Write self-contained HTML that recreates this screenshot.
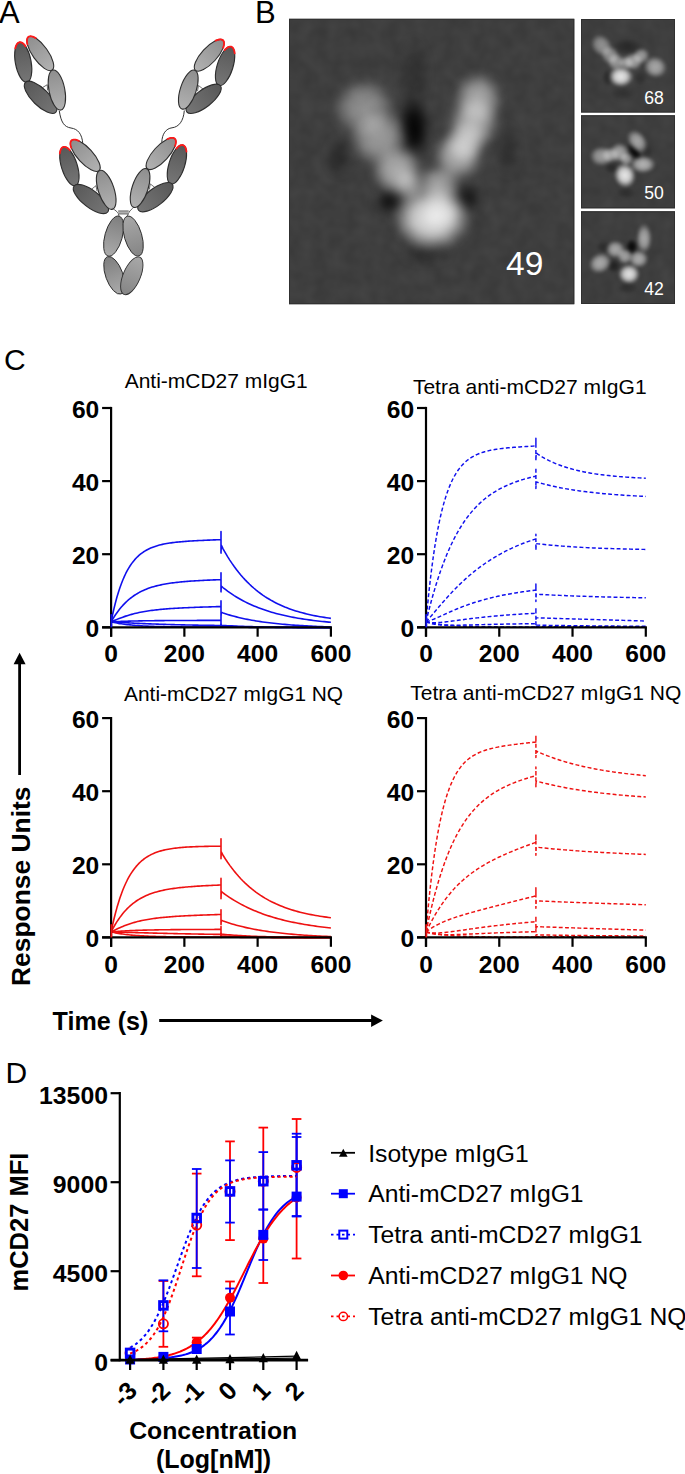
<!DOCTYPE html><html><head><meta charset="utf-8"><style>html,body{margin:0;padding:0;background:#fff;overflow:hidden}svg{display:block}text{font-family:"Liberation Sans",sans-serif}</style></head><body><svg width="685" height="1474" viewBox="0 0 685 1474"><rect width="685" height="1474" fill="#fff"/><text x="-1" y="22.6" font-size="31">A</text><text x="255" y="22.6" font-size="31">B</text><defs><linearGradient id="gl" x1="0" y1="0" x2="0" y2="1"><stop offset="0" stop-color="#8e8e8e"/><stop offset="1" stop-color="#b2b2b2"/></linearGradient><linearGradient id="gd" x1="0" y1="0" x2="0" y2="1"><stop offset="0" stop-color="#585858"/><stop offset="1" stop-color="#767676"/></linearGradient><linearGradient id="gf1" x1="0" y1="0" x2="0" y2="1"><stop offset="0" stop-color="#7e7e7e"/><stop offset="1" stop-color="#ababab"/></linearGradient><linearGradient id="gf2" x1="0" y1="0" x2="0" y2="1"><stop offset="0" stop-color="#a8a8a8"/><stop offset="1" stop-color="#858585"/></linearGradient></defs><path d="M59.3,111 C61,122 64,127 71,128 C78,129 82,134 82.8,143.6" fill="none" stroke="#333" stroke-width="1"/><path d="M184.3,110.5 C183.5,121 179,127 172,127.8 C166,128.5 162,134 161.8,142.3" fill="none" stroke="#333" stroke-width="1"/><g transform="translate(40.3,75.8) rotate(7)"><g transform="translate(-18.6,-11.4) rotate(-17.5)"><ellipse rx="7.9" ry="20.3" fill="url(#gd)" stroke="#2e2e2e" stroke-width="1.1"/><path d="M-5.29,-15.09 L-4.73,-16.27 L-4.13,-17.31 L-3.49,-18.21 L-2.83,-18.95 L-2.14,-19.54 L-1.44,-19.96 L-0.72,-20.21 L0,-20.3 L0.72,-20.21 L1.44,-19.96 L2.14,-19.54 L2.83,-18.95 L3.49,-18.21 L4.13,-17.31 L4.73,-16.27 L5.29,-15.09" fill="none" stroke="#ff1a1a" stroke-width="1.8" stroke-linecap="round"/></g><g transform="translate(-2.7,-22.2) rotate(-42.5)"><ellipse rx="7.7" ry="20.4" fill="url(#gl)" stroke="#2e2e2e" stroke-width="1.1"/><path d="M-5.15,-15.16 L-4.61,-16.35 L-4.02,-17.39 L-3.41,-18.3 L-2.76,-19.05 L-2.09,-19.63 L-1.4,-20.06 L-0.7,-20.31 L0,-20.4 L0.7,-20.31 L1.4,-20.06 L2.09,-19.63 L2.76,-19.05 L3.41,-18.3 L4.02,-17.39 L4.61,-16.35 L5.15,-15.16" fill="none" stroke="#ff1a1a" stroke-width="1.8" stroke-linecap="round"/></g><g transform="translate(2.9,21.3) rotate(-52.3)"><ellipse rx="8.4" ry="21.3" fill="url(#gd)" stroke="#2e2e2e" stroke-width="1.1"/></g><g transform="translate(18.2,12.1) rotate(-18.2)"><ellipse rx="7.9" ry="20.4" fill="url(#gl)" stroke="#2e2e2e" stroke-width="1.1"/></g><path d="M3.4,11.6 L8,8 L9,13.6" fill="none" stroke="#333" stroke-width="0.7"/></g><g transform="translate(88,177.7) rotate(0)"><g transform="translate(-18.6,-11.4) rotate(-17.5)"><ellipse rx="7.9" ry="20.3" fill="url(#gd)" stroke="#2e2e2e" stroke-width="1.1"/><path d="M-5.29,-15.09 L-4.73,-16.27 L-4.13,-17.31 L-3.49,-18.21 L-2.83,-18.95 L-2.14,-19.54 L-1.44,-19.96 L-0.72,-20.21 L0,-20.3 L0.72,-20.21 L1.44,-19.96 L2.14,-19.54 L2.83,-18.95 L3.49,-18.21 L4.13,-17.31 L4.73,-16.27 L5.29,-15.09" fill="none" stroke="#ff1a1a" stroke-width="1.8" stroke-linecap="round"/></g><g transform="translate(-2.7,-22.2) rotate(-42.5)"><ellipse rx="7.7" ry="20.4" fill="url(#gl)" stroke="#2e2e2e" stroke-width="1.1"/><path d="M-5.15,-15.16 L-4.61,-16.35 L-4.02,-17.39 L-3.41,-18.3 L-2.76,-19.05 L-2.09,-19.63 L-1.4,-20.06 L-0.7,-20.31 L0,-20.4 L0.7,-20.31 L1.4,-20.06 L2.09,-19.63 L2.76,-19.05 L3.41,-18.3 L4.02,-17.39 L4.61,-16.35 L5.15,-15.16" fill="none" stroke="#ff1a1a" stroke-width="1.8" stroke-linecap="round"/></g><g transform="translate(2.9,21.3) rotate(-52.3)"><ellipse rx="8.4" ry="21.3" fill="url(#gd)" stroke="#2e2e2e" stroke-width="1.1"/></g><g transform="translate(18.2,12.1) rotate(-18.2)"><ellipse rx="7.9" ry="20.4" fill="url(#gl)" stroke="#2e2e2e" stroke-width="1.1"/></g><path d="M3.4,11.6 L8,8 L9,13.6" fill="none" stroke="#333" stroke-width="0.7"/></g><g transform="translate(206.5,77.5) rotate(0) scale(-1,1)"><g transform="translate(-18.6,-11.4) rotate(-17.5)"><ellipse rx="7.9" ry="20.3" fill="url(#gd)" stroke="#2e2e2e" stroke-width="1.1"/><path d="M-5.29,-15.09 L-4.73,-16.27 L-4.13,-17.31 L-3.49,-18.21 L-2.83,-18.95 L-2.14,-19.54 L-1.44,-19.96 L-0.72,-20.21 L0,-20.3 L0.72,-20.21 L1.44,-19.96 L2.14,-19.54 L2.83,-18.95 L3.49,-18.21 L4.13,-17.31 L4.73,-16.27 L5.29,-15.09" fill="none" stroke="#ff1a1a" stroke-width="1.8" stroke-linecap="round"/></g><g transform="translate(-2.7,-22.2) rotate(-42.5)"><ellipse rx="7.7" ry="20.4" fill="url(#gl)" stroke="#2e2e2e" stroke-width="1.1"/><path d="M-5.15,-15.16 L-4.61,-16.35 L-4.02,-17.39 L-3.41,-18.3 L-2.76,-19.05 L-2.09,-19.63 L-1.4,-20.06 L-0.7,-20.31 L0,-20.4 L0.7,-20.31 L1.4,-20.06 L2.09,-19.63 L2.76,-19.05 L3.41,-18.3 L4.02,-17.39 L4.61,-16.35 L5.15,-15.16" fill="none" stroke="#ff1a1a" stroke-width="1.8" stroke-linecap="round"/></g><g transform="translate(2.9,21.3) rotate(-52.3)"><ellipse rx="8.4" ry="21.3" fill="url(#gd)" stroke="#2e2e2e" stroke-width="1.1"/></g><g transform="translate(18.2,12.1) rotate(-18.2)"><ellipse rx="7.9" ry="20.4" fill="url(#gl)" stroke="#2e2e2e" stroke-width="1.1"/></g><path d="M3.4,11.6 L8,8 L9,13.6" fill="none" stroke="#333" stroke-width="0.7"/></g><g transform="translate(158.3,175.9) rotate(0) scale(-1,1)"><g transform="translate(-18.6,-11.4) rotate(-17.5)"><ellipse rx="7.9" ry="20.3" fill="url(#gd)" stroke="#2e2e2e" stroke-width="1.1"/><path d="M-5.29,-15.09 L-4.73,-16.27 L-4.13,-17.31 L-3.49,-18.21 L-2.83,-18.95 L-2.14,-19.54 L-1.44,-19.96 L-0.72,-20.21 L0,-20.3 L0.72,-20.21 L1.44,-19.96 L2.14,-19.54 L2.83,-18.95 L3.49,-18.21 L4.13,-17.31 L4.73,-16.27 L5.29,-15.09" fill="none" stroke="#ff1a1a" stroke-width="1.8" stroke-linecap="round"/></g><g transform="translate(-2.7,-22.2) rotate(-42.5)"><ellipse rx="7.7" ry="20.4" fill="url(#gl)" stroke="#2e2e2e" stroke-width="1.1"/><path d="M-5.15,-15.16 L-4.61,-16.35 L-4.02,-17.39 L-3.41,-18.3 L-2.76,-19.05 L-2.09,-19.63 L-1.4,-20.06 L-0.7,-20.31 L0,-20.4 L0.7,-20.31 L1.4,-20.06 L2.09,-19.63 L2.76,-19.05 L3.41,-18.3 L4.02,-17.39 L4.61,-16.35 L5.15,-15.16" fill="none" stroke="#ff1a1a" stroke-width="1.8" stroke-linecap="round"/></g><g transform="translate(2.9,21.3) rotate(-52.3)"><ellipse rx="8.4" ry="21.3" fill="url(#gd)" stroke="#2e2e2e" stroke-width="1.1"/></g><g transform="translate(18.2,12.1) rotate(-18.2)"><ellipse rx="7.9" ry="20.4" fill="url(#gl)" stroke="#2e2e2e" stroke-width="1.1"/></g><path d="M3.4,11.6 L8,8 L9,13.6" fill="none" stroke="#333" stroke-width="0.7"/></g><path d="M112.5,208.3 C115,210 117.5,212 118.2,213.1 L119.1,216.2" fill="none" stroke="#333" stroke-width="0.8"/><path d="M132.7,208.3 C130.5,210 129,212 128.7,213.1 L127,216.2" fill="none" stroke="#333" stroke-width="0.8"/><rect x="118.2" y="210.9" width="10.5" height="3.1" fill="#b0b0b0"/><line x1="118.2" y1="210.9" x2="128.7" y2="210.9" stroke="#555" stroke-width="0.8"/><line x1="118.2" y1="214" x2="128.7" y2="214" stroke="#555" stroke-width="0.8"/><ellipse transform="translate(113.6,236.1) rotate(15.4)" rx="8.7" ry="20.7" fill="url(#gf1)" stroke="#2e2e2e" stroke-width="0.9"/><ellipse transform="translate(133.1,236.1) rotate(-16.5)" rx="8.7" ry="20.7" fill="url(#gf2)" stroke="#2e2e2e" stroke-width="0.9"/><ellipse transform="translate(114.3,275.3) rotate(-20)" rx="8.6" ry="19.8" fill="url(#gf1)" stroke="#2e2e2e" stroke-width="0.9"/><ellipse transform="translate(131.8,275.8) rotate(23)" rx="8.6" ry="20.2" fill="url(#gf2)" stroke="#2e2e2e" stroke-width="0.9"/><defs><filter id="bl8" color-interpolation-filters="sRGB" x="-50%" y="-50%" width="200%" height="200%"><feGaussianBlur stdDeviation="8"/></filter><filter id="bl6" color-interpolation-filters="sRGB" x="-50%" y="-50%" width="200%" height="200%"><feGaussianBlur stdDeviation="6"/></filter><filter id="bl4" color-interpolation-filters="sRGB" x="-50%" y="-50%" width="200%" height="200%"><feGaussianBlur stdDeviation="4"/></filter><filter id="bl3" color-interpolation-filters="sRGB" x="-50%" y="-50%" width="200%" height="200%"><feGaussianBlur stdDeviation="3"/></filter><filter id="bl2" color-interpolation-filters="sRGB" x="-50%" y="-50%" width="200%" height="200%"><feGaussianBlur stdDeviation="2.2"/></filter><filter id="bl15" color-interpolation-filters="sRGB" x="-50%" y="-50%" width="200%" height="200%"><feGaussianBlur stdDeviation="1.6"/></filter><filter id="noise" color-interpolation-filters="sRGB" x="0" y="0" width="100%" height="100%"><feTurbulence type="fractalNoise" baseFrequency="0.07" numOctaves="2" seed="3"/><feColorMatrix type="matrix" values="0.4 0 0 0 0.06  0.4 0 0 0 0.06  0.4 0 0 0 0.06  0 0 0 0 1"/><feGaussianBlur stdDeviation="0.8"/></filter><clipPath id="cb0"><rect x="289" y="19" width="285" height="285"/></clipPath><clipPath id="cb1"><rect x="581" y="19" width="94" height="93.5"/></clipPath><clipPath id="cb2"><rect x="581" y="115.3" width="94" height="93"/></clipPath><clipPath id="cb3"><rect x="581" y="211.3" width="94" height="92.7"/></clipPath></defs><radialGradient id="rgw"><stop offset="0" stop-color="#fff" stop-opacity="1"/><stop offset="0.5" stop-color="#fff" stop-opacity="0.8"/><stop offset="1" stop-color="#fff" stop-opacity="0"/></radialGradient><radialGradient id="rgk"><stop offset="0" stop-color="#000" stop-opacity="1"/><stop offset="0.5" stop-color="#000" stop-opacity="0.75"/><stop offset="1" stop-color="#000" stop-opacity="0"/></radialGradient><rect x="289" y="18.8" width="285.3" height="285.4" fill="#3e3e3e"/><g clip-path="url(#cb0)"><rect x="289" y="19" width="285" height="285" filter="url(#noise)" opacity="0.14"/><g filter="url(#bl4)"><ellipse rx="16" ry="32" fill="url(#rgk)" opacity="1.000" transform="translate(414,128) rotate(0)"/><ellipse rx="16" ry="40" fill="url(#rgk)" opacity="0.219" transform="translate(414,75) rotate(0)"/><ellipse rx="14" ry="13" fill="url(#rgk)" opacity="0.766" transform="translate(389,202) rotate(0)"/><ellipse rx="13" ry="14" fill="url(#rgk)" opacity="0.688" transform="translate(468,198) rotate(0)"/><ellipse rx="12" ry="20" fill="url(#rgk)" opacity="0.375" transform="translate(339,156) rotate(0)"/><ellipse rx="26" ry="10" fill="url(#rgk)" opacity="0.297" transform="translate(426,254) rotate(0)"/><ellipse rx="10" ry="28" fill="url(#rgk)" opacity="0.297" transform="translate(508,150) rotate(0)"/><ellipse rx="32" ry="30" fill="url(#rgw)" opacity="0.440" transform="translate(364,108) rotate(-25)"/><ellipse rx="30" ry="28" fill="url(#rgw)" opacity="0.503" transform="translate(379,138) rotate(-30)"/><ellipse rx="26" ry="24" fill="url(#rgw)" opacity="0.607" transform="translate(397,170) rotate(-30)"/><ellipse rx="16" ry="16" fill="url(#rgw)" opacity="0.503" transform="translate(409,185) rotate(-30)"/><ellipse rx="25" ry="27" fill="url(#rgw)" opacity="0.565" transform="translate(478,99) rotate(10)"/><ellipse rx="26" ry="26" fill="url(#rgw)" opacity="0.565" transform="translate(474,123) rotate(15)"/><ellipse rx="22" ry="22" fill="url(#rgw)" opacity="0.545" transform="translate(466,141) rotate(20)"/><ellipse rx="25" ry="25" fill="url(#rgw)" opacity="0.607" transform="translate(458,156) rotate(25)"/><ellipse rx="22" ry="20" fill="url(#rgw)" opacity="0.545" transform="translate(439,185) rotate(25)"/><ellipse rx="39" ry="33" fill="url(#rgw)" opacity="0.880" transform="translate(432,218) rotate(0)"/><ellipse rx="20" ry="18" fill="url(#rgw)" opacity="0.450" transform="translate(442,212) rotate(0)"/></g></g><rect x="289.5" y="19.3" width="284.3" height="284.4" fill="none" stroke="#303030" stroke-width="1"/><text x="506" y="275" font-size="33.5" fill="#ffffff" font-family="Liberation Sans, sans-serif">49</text><rect x="581" y="19" width="94" height="93.5" fill="#3e3e3e"/><g clip-path="url(#cb1)"><rect x="581" y="19" width="94" height="93.5" filter="url(#noise)" opacity="0.14"/><g filter="url(#bl15)"><ellipse rx="16" ry="9" fill="url(#rgk)" opacity="0.337" transform="translate(628,47) rotate(0)"/><ellipse rx="6" ry="9" fill="url(#rgk)" opacity="0.366" transform="translate(608,78) rotate(0)"/><ellipse rx="7" ry="8" fill="url(#rgk)" opacity="0.272" transform="translate(640,78) rotate(0)"/><ellipse rx="12" ry="6" fill="url(#rgk)" opacity="0.178" transform="translate(622,94) rotate(0)"/><ellipse rx="10" ry="12" fill="url(#rgw)" opacity="0.450" transform="translate(601.6,45.5) rotate(-40)"/><ellipse rx="9" ry="10" fill="url(#rgw)" opacity="0.450" transform="translate(610,55) rotate(-40)"/><ellipse rx="9" ry="9" fill="url(#rgw)" opacity="0.476" transform="translate(616,62) rotate(-40)"/><ellipse rx="8" ry="7" fill="url(#rgw)" opacity="0.450" transform="translate(626,63) rotate(0)"/><ellipse rx="10" ry="9" fill="url(#rgw)" opacity="0.529" transform="translate(633.1,61.5) rotate(0)"/><ellipse rx="9" ry="8" fill="url(#rgw)" opacity="0.492" transform="translate(641,56) rotate(-20)"/><ellipse rx="12" ry="11" fill="url(#rgw)" opacity="0.565" transform="translate(655.1,67) rotate(20)"/><ellipse rx="12.5" ry="10.5" fill="url(#rgw)" opacity="0.895" transform="translate(620.8,76.6) rotate(0)"/></g></g><rect x="581.5" y="19.5" width="93" height="92.5" fill="none" stroke="#303030" stroke-width="1"/><text x="644.2" y="103.6" font-size="17.6" fill="#ffffff" font-family="Liberation Sans, sans-serif">68</text><rect x="581" y="115.3" width="94" height="93" fill="#3e3e3e"/><g clip-path="url(#cb2)"><rect x="581" y="115.3" width="94" height="93" filter="url(#noise)" opacity="0.14"/><g filter="url(#bl15)"><ellipse rx="5" ry="11" fill="url(#rgk)" opacity="0.922" transform="translate(634.5,152) rotate(-35)"/><ellipse rx="8" ry="6" fill="url(#rgk)" opacity="0.319" transform="translate(612,168) rotate(0)"/><ellipse rx="10" ry="6" fill="url(#rgk)" opacity="0.272" transform="translate(626,193) rotate(0)"/><ellipse rx="6" ry="8" fill="url(#rgk)" opacity="0.225" transform="translate(647,152) rotate(0)"/><ellipse rx="12" ry="10" fill="url(#rgw)" opacity="0.503" transform="translate(601.6,156.2) rotate(0)"/><ellipse rx="9" ry="8" fill="url(#rgw)" opacity="0.450" transform="translate(610.5,155) rotate(0)"/><ellipse rx="10" ry="10" fill="url(#rgw)" opacity="0.545" transform="translate(619.4,152.5) rotate(0)"/><ellipse rx="7" ry="7" fill="url(#rgw)" opacity="0.503" transform="translate(626.3,159) rotate(0)"/><ellipse rx="9" ry="13" fill="url(#rgw)" opacity="0.545" transform="translate(637.3,141.5) rotate(-35)"/><ellipse rx="13" ry="9" fill="url(#rgw)" opacity="0.618" transform="translate(642.8,164.4) rotate(0)"/><ellipse rx="11" ry="12.5" fill="url(#rgw)" opacity="0.895" transform="translate(624.9,175.4) rotate(-15)"/></g></g><rect x="581.5" y="115.8" width="93" height="92" fill="none" stroke="#303030" stroke-width="1"/><text x="644.2" y="199.4" font-size="17.6" fill="#ffffff" font-family="Liberation Sans, sans-serif">50</text><rect x="581" y="211.3" width="94" height="92.7" fill="#3e3e3e"/><g clip-path="url(#cb3)"><rect x="581" y="211.3" width="94" height="92.7" filter="url(#noise)" opacity="0.14"/><g filter="url(#bl15)"><ellipse rx="6" ry="8" fill="url(#rgk)" opacity="0.922" transform="translate(631.8,246.7) rotate(0)"/><ellipse rx="7" ry="7" fill="url(#rgk)" opacity="0.459" transform="translate(613.9,266) rotate(0)"/><ellipse rx="10" ry="6" fill="url(#rgk)" opacity="0.272" transform="translate(628,288) rotate(0)"/><ellipse rx="8" ry="6" fill="url(#rgk)" opacity="0.272" transform="translate(604,247) rotate(0)"/><ellipse rx="12" ry="10" fill="url(#rgw)" opacity="0.581" transform="translate(600.2,263.1) rotate(-30)"/><ellipse rx="10" ry="9" fill="url(#rgw)" opacity="0.565" transform="translate(615.3,249.4) rotate(0)"/><ellipse rx="8" ry="8" fill="url(#rgw)" opacity="0.529" transform="translate(624.9,256.3) rotate(0)"/><ellipse rx="10" ry="9" fill="url(#rgw)" opacity="0.581" transform="translate(638.6,259) rotate(0)"/><ellipse rx="8" ry="15" fill="url(#rgw)" opacity="0.565" transform="translate(644.1,238.4) rotate(0)"/><ellipse rx="11" ry="10" fill="url(#rgw)" opacity="0.869" transform="translate(629,274.1) rotate(0)"/></g></g><rect x="581.5" y="211.8" width="93" height="91.7" fill="none" stroke="#303030" stroke-width="1"/><text x="644.2" y="294.7" font-size="17.6" fill="#ffffff" font-family="Liberation Sans, sans-serif">42</text><text x="4" y="370" font-size="30">C</text><text x="124.7" y="388" font-size="20.3" textLength="183" lengthAdjust="spacingAndGlyphs">Anti-mCD27 mIgG1</text><text x="412.9" y="393.6" font-size="20.3" textLength="233.7" lengthAdjust="spacingAndGlyphs">Tetra anti-mCD27 mIgG1</text><text x="124.1" y="700.5" font-size="20.3" textLength="219" lengthAdjust="spacingAndGlyphs">Anti-mCD27 mIgG1 NQ</text><text x="410.3" y="699.9" font-size="20.3" textLength="271" lengthAdjust="spacingAndGlyphs">Tetra anti-mCD27 mIgG1 NQ</text><path d="M111.1,621.82 L112.57,614.76 L114.03,608.32 L115.5,602.44 L116.96,597.08 L118.43,592.19 L119.89,587.74 L121.36,583.67 L122.82,579.96 L124.29,576.58 L125.75,573.49 L127.22,570.68 L128.68,568.11 L130.15,565.77 L131.61,563.63 L133.08,561.68 L134.55,559.9 L136.01,558.28 L137.48,556.79 L138.94,555.44 L140.41,554.2 L141.87,553.07 L143.34,552.04 L144.8,551.1 L146.27,550.24 L147.73,549.45 L149.2,548.72 L150.66,548.06 L152.13,547.46 L153.59,546.9 L155.06,546.39 L156.53,545.92 L157.99,545.49 L159.46,545.1 L160.92,544.73 L162.39,544.4 L163.85,544.09 L165.32,543.8 L166.78,543.54 L168.25,543.29 L169.71,543.07 L171.18,542.86 L172.64,542.66 L174.11,542.48 L175.57,542.31 L177.04,542.15 L178.51,542 L179.97,541.86 L181.44,541.72 L182.9,541.6 L184.37,541.48 L185.83,541.37 L187.3,541.27 L188.76,541.17 L190.23,541.07 L191.69,540.98 L193.16,540.89 L194.62,540.81 L196.09,540.73 L197.55,540.65 L199.02,540.57 L200.49,540.5 L201.95,540.43 L203.42,540.36 L204.88,540.3 L206.35,540.23 L207.81,540.17 L209.28,540.1 L210.74,540.04 L212.21,539.98 L213.67,539.92 L215.14,539.87 L216.6,539.81 L218.07,539.75 L219.53,539.7 L221,539.64 L221,531.6 L221,553.1 L221.29,545.06 L223.2,549.12 L225.4,552.97 L227.59,556.63 L229.79,560.09 L231.99,563.38 L234.19,566.5 L236.39,569.46 L238.58,572.26 L240.78,574.92 L242.98,577.45 L245.18,579.84 L247.38,582.11 L249.57,584.27 L251.77,586.31 L253.97,588.25 L256.17,590.09 L258.37,591.84 L260.56,593.49 L262.76,595.06 L264.96,596.55 L267.16,597.96 L269.36,599.3 L271.55,600.57 L273.75,601.78 L275.95,602.92 L278.15,604.01 L280.35,605.03 L282.54,606.01 L284.74,606.94 L286.94,607.81 L289.14,608.65 L291.34,609.44 L293.53,610.19 L295.73,610.9 L297.93,611.57 L300.13,612.21 L302.33,612.82 L304.52,613.39 L306.72,613.94 L308.92,614.46 L311.12,614.95 L313.32,615.42 L315.51,615.86 L317.71,616.28 L319.91,616.67 L322.11,617.05 L324.31,617.41 L326.5,617.75 L328.7,618.07 L330.9,618.38" fill="none" stroke="#1010ee" stroke-width="1.6" stroke-linejoin="round"/><path d="M111.1,621.82 L112.57,619.34 L114.03,616.99 L115.5,614.77 L116.96,612.68 L118.43,610.7 L119.89,608.83 L121.36,607.07 L122.82,605.42 L124.29,603.86 L125.75,602.39 L127.22,601.01 L128.68,599.72 L130.15,598.5 L131.61,597.36 L133.08,596.28 L134.55,595.28 L136.01,594.33 L137.48,593.45 L138.94,592.61 L140.41,591.83 L141.87,591.1 L143.34,590.42 L144.8,589.77 L146.27,589.17 L147.73,588.6 L149.2,588.07 L150.66,587.58 L152.13,587.11 L153.59,586.67 L155.06,586.26 L156.53,585.87 L157.99,585.51 L159.46,585.17 L160.92,584.85 L162.39,584.54 L163.85,584.26 L165.32,583.99 L166.78,583.74 L168.25,583.5 L169.71,583.28 L171.18,583.07 L172.64,582.87 L174.11,582.68 L175.57,582.5 L177.04,582.34 L178.51,582.18 L179.97,582.03 L181.44,581.88 L182.9,581.75 L184.37,581.62 L185.83,581.49 L187.3,581.37 L188.76,581.26 L190.23,581.16 L191.69,581.05 L193.16,580.95 L194.62,580.86 L196.09,580.77 L197.55,580.68 L199.02,580.6 L200.49,580.52 L201.95,580.44 L203.42,580.37 L204.88,580.3 L206.35,580.23 L207.81,580.16 L209.28,580.09 L210.74,580.03 L212.21,579.97 L213.67,579.9 L215.14,579.85 L216.6,579.79 L218.07,579.73 L219.53,579.68 L221,579.62 L221,572.68 L221,591.85 L221.29,586 L223.2,587.78 L225.4,589.49 L227.59,591.12 L229.79,592.68 L231.99,594.17 L234.19,595.6 L236.39,596.96 L238.58,598.26 L240.78,599.51 L242.98,600.7 L245.18,601.84 L247.38,602.93 L249.57,603.97 L251.77,604.96 L253.97,605.91 L256.17,606.82 L258.37,607.69 L260.56,608.52 L262.76,609.32 L264.96,610.07 L267.16,610.8 L269.36,611.49 L271.55,612.16 L273.75,612.79 L275.95,613.4 L278.15,613.98 L280.35,614.53 L282.54,615.06 L284.74,615.57 L286.94,616.05 L289.14,616.51 L291.34,616.96 L293.53,617.38 L295.73,617.78 L297.93,618.17 L300.13,618.54 L302.33,618.89 L304.52,619.23 L306.72,619.55 L308.92,619.86 L311.12,620.16 L313.32,620.44 L315.51,620.71 L317.71,620.97 L319.91,621.21 L322.11,621.45 L324.31,621.67 L326.5,621.89 L328.7,622.1 L330.9,622.29" fill="none" stroke="#1010ee" stroke-width="1.6" stroke-linejoin="round"/><path d="M111.1,621.82 L112.57,621.2 L114.03,620.58 L115.5,619.97 L116.96,619.37 L118.43,618.79 L119.89,618.22 L121.36,617.67 L122.82,617.14 L124.29,616.63 L125.75,616.13 L127.22,615.66 L128.68,615.21 L130.15,614.78 L131.61,614.37 L133.08,613.98 L134.55,613.6 L136.01,613.25 L137.48,612.91 L138.94,612.59 L140.41,612.29 L141.87,612 L143.34,611.73 L144.8,611.47 L146.27,611.23 L147.73,611 L149.2,610.78 L150.66,610.57 L152.13,610.37 L153.59,610.19 L155.06,610.01 L156.53,609.84 L157.99,609.68 L159.46,609.53 L160.92,609.39 L162.39,609.25 L163.85,609.12 L165.32,609 L166.78,608.88 L168.25,608.77 L169.71,608.66 L171.18,608.56 L172.64,608.46 L174.11,608.37 L175.57,608.28 L177.04,608.19 L178.51,608.11 L179.97,608.03 L181.44,607.96 L182.9,607.88 L184.37,607.81 L185.83,607.74 L187.3,607.68 L188.76,607.61 L190.23,607.55 L191.69,607.49 L193.16,607.44 L194.62,607.38 L196.09,607.32 L197.55,607.27 L199.02,607.22 L200.49,607.17 L201.95,607.12 L203.42,607.07 L204.88,607.02 L206.35,606.98 L207.81,606.93 L209.28,606.89 L210.74,606.84 L212.21,606.8 L213.67,606.75 L215.14,606.71 L216.6,606.67 L218.07,606.63 L219.53,606.59 L221,606.55 L221,600.88 L221,616.7 L221.29,612.31 L223.2,613.07 L225.4,613.79 L227.59,614.47 L229.79,615.12 L231.99,615.75 L234.19,616.34 L236.39,616.9 L238.58,617.44 L240.78,617.96 L242.98,618.45 L245.18,618.91 L247.38,619.36 L249.57,619.78 L251.77,620.18 L253.97,620.57 L256.17,620.94 L258.37,621.29 L260.56,621.62 L262.76,621.94 L264.96,622.24 L267.16,622.53 L269.36,622.8 L271.55,623.06 L273.75,623.31 L275.95,623.55 L278.15,623.78 L280.35,624 L282.54,624.2 L284.74,624.4 L286.94,624.59 L289.14,624.76 L291.34,624.94 L293.53,625.1 L295.73,625.25 L297.93,625.4 L300.13,625.54 L302.33,625.67 L304.52,625.8 L306.72,625.92 L308.92,626.04 L311.12,626.15 L313.32,626.25 L315.51,626.35 L317.71,626.45 L319.91,626.54 L322.11,626.63 L324.31,626.71 L326.5,626.79 L328.7,626.87 L330.9,626.94" fill="none" stroke="#1010ee" stroke-width="1.6" stroke-linejoin="round"/><path d="M111.1,621.82 L112.57,621.74 L114.03,621.67 L115.5,621.61 L116.96,621.54 L118.43,621.48 L119.89,621.43 L121.36,621.37 L122.82,621.32 L124.29,621.27 L125.75,621.22 L127.22,621.18 L128.68,621.14 L130.15,621.1 L131.61,621.06 L133.08,621.03 L134.55,620.99 L136.01,620.96 L137.48,620.93 L138.94,620.9 L140.41,620.87 L141.87,620.85 L143.34,620.82 L144.8,620.8 L146.27,620.78 L147.73,620.75 L149.2,620.73 L150.66,620.71 L152.13,620.7 L153.59,620.68 L155.06,620.66 L156.53,620.65 L157.99,620.63 L159.46,620.62 L160.92,620.61 L162.39,620.59 L163.85,620.58 L165.32,620.57 L166.78,620.56 L168.25,620.55 L169.71,620.54 L171.18,620.53 L172.64,620.52 L174.11,620.51 L175.57,620.5 L177.04,620.5 L178.51,620.49 L179.97,620.48 L181.44,620.48 L182.9,620.47 L184.37,620.46 L185.83,620.46 L187.3,620.45 L188.76,620.45 L190.23,620.44 L191.69,620.44 L193.16,620.43 L194.62,620.43 L196.09,620.43 L197.55,620.42 L199.02,620.42 L200.49,620.42 L201.95,620.41 L203.42,620.41 L204.88,620.41 L206.35,620.41 L207.81,620.4 L209.28,620.4 L210.74,620.4 L212.21,620.4 L213.67,620.39 L215.14,620.39 L216.6,620.39 L218.07,620.39 L219.53,620.39 L221,620.39 L221,617.46 L221,626.75 L221.29,625.29 L223.2,625.43 L225.4,625.56 L227.59,625.68 L229.79,625.8 L231.99,625.91 L234.19,626.01 L236.39,626.1 L238.58,626.2 L240.78,626.28 L242.98,626.36 L245.18,626.44 L247.38,626.51 L249.57,626.58 L251.77,626.64 L253.97,626.7 L256.17,626.76 L258.37,626.81 L260.56,626.86 L262.76,626.91 L264.96,626.95 L267.16,626.99 L269.36,627.03 L271.55,627.07 L273.75,627.1 L275.95,627.14 L278.15,627.17 L280.35,627.2 L282.54,627.22 L284.74,627.25 L286.94,627.27 L289.14,627.3 L291.34,627.32 L293.53,627.34 L295.73,627.36 L297.93,627.37 L300.13,627.39 L302.33,627.41 L304.52,627.42 L306.72,627.44 L308.92,627.45 L311.12,627.46 L313.32,627.47 L315.51,627.49 L317.71,627.5 L319.91,627.51 L322.11,627.52 L324.31,627.52 L326.5,627.53 L328.7,627.54 L330.9,627.55" fill="none" stroke="#1010ee" stroke-width="1.6" stroke-linejoin="round"/><path d="M111.1,621.82 L112.57,621.92 L114.03,622.02 L115.5,622.12 L116.96,622.21 L118.43,622.3 L119.89,622.39 L121.36,622.48 L122.82,622.57 L124.29,622.66 L125.75,622.74 L127.22,622.82 L128.68,622.9 L130.15,622.98 L131.61,623.06 L133.08,623.13 L134.55,623.2 L136.01,623.27 L137.48,623.34 L138.94,623.41 L140.41,623.48 L141.87,623.55 L143.34,623.61 L144.8,623.67 L146.27,623.73 L147.73,623.79 L149.2,623.85 L150.66,623.91 L152.13,623.96 L153.59,624.02 L155.06,624.07 L156.53,624.12 L157.99,624.17 L159.46,624.22 L160.92,624.27 L162.39,624.32 L163.85,624.36 L165.32,624.41 L166.78,624.45 L168.25,624.5 L169.71,624.54 L171.18,624.58 L172.64,624.62 L174.11,624.66 L175.57,624.7 L177.04,624.73 L178.51,624.77 L179.97,624.81 L181.44,624.84 L182.9,624.87 L184.37,624.91 L185.83,624.94 L187.3,624.97 L188.76,625 L190.23,625.03 L191.69,625.06 L193.16,625.09 L194.62,625.12 L196.09,625.14 L197.55,625.17 L199.02,625.2 L200.49,625.22 L201.95,625.25 L203.42,625.27 L204.88,625.29 L206.35,625.32 L207.81,625.34 L209.28,625.36 L210.74,625.38 L212.21,625.4 L213.67,625.42 L215.14,625.44 L216.6,625.46 L218.07,625.48 L219.53,625.5 L221,625.52 L221,624.42 L221,626.93 L221.29,626.2 L223.2,626.29 L225.4,626.37 L227.59,626.44 L229.79,626.52 L231.99,626.58 L234.19,626.65 L236.39,626.7 L238.58,626.76 L240.78,626.81 L242.98,626.86 L245.18,626.91 L247.38,626.95 L249.57,627 L251.77,627.03 L253.97,627.07 L256.17,627.11 L258.37,627.14 L260.56,627.17 L262.76,627.2 L264.96,627.23 L267.16,627.25 L269.36,627.27 L271.55,627.3 L273.75,627.32 L275.95,627.34 L278.15,627.36 L280.35,627.38 L282.54,627.39 L284.74,627.41 L286.94,627.42 L289.14,627.44 L291.34,627.45 L293.53,627.46 L295.73,627.48 L297.93,627.49 L300.13,627.5 L302.33,627.51 L304.52,627.52 L306.72,627.52 L308.92,627.53 L311.12,627.54 L313.32,627.55 L315.51,627.55 L317.71,627.56 L319.91,627.57 L322.11,627.57 L324.31,627.58 L326.5,627.58 L328.7,627.59 L330.9,627.59" fill="none" stroke="#1010ee" stroke-width="1.6" stroke-linejoin="round"/><path d="M111.1,621.82 L112.57,622.16 L114.03,622.49 L115.5,622.79 L116.96,623.07 L118.43,623.34 L119.89,623.59 L121.36,623.82 L122.82,624.03 L124.29,624.24 L125.75,624.42 L127.22,624.6 L128.68,624.77 L130.15,624.92 L131.61,625.07 L133.08,625.2 L134.55,625.33 L136.01,625.44 L137.48,625.55 L138.94,625.66 L140.41,625.75 L141.87,625.84 L143.34,625.93 L144.8,626.01 L146.27,626.08 L147.73,626.15 L149.2,626.21 L150.66,626.27 L152.13,626.33 L153.59,626.38 L155.06,626.43 L156.53,626.48 L157.99,626.52 L159.46,626.56 L160.92,626.6 L162.39,626.63 L163.85,626.66 L165.32,626.69 L166.78,626.72 L168.25,626.75 L169.71,626.77 L171.18,626.8 L172.64,626.82 L174.11,626.84 L175.57,626.86 L177.04,626.87 L178.51,626.89 L179.97,626.91 L181.44,626.92 L182.9,626.93 L184.37,626.95 L185.83,626.96 L187.3,626.97 L188.76,626.98 L190.23,626.99 L191.69,627 L193.16,627.01 L194.62,627.01 L196.09,627.02 L197.55,627.03 L199.02,627.03 L200.49,627.04 L201.95,627.04 L203.42,627.05 L204.88,627.05 L206.35,627.06 L207.81,627.06 L209.28,627.07 L210.74,627.07 L212.21,627.07 L213.67,627.08 L215.14,627.08 L216.6,627.08 L218.07,627.08 L219.53,627.09 L221,627.09 L221,626.36 L221,627.3 L221.29,626.93 L223.2,626.98 L225.4,627.02 L227.59,627.05 L229.79,627.09 L231.99,627.12 L234.19,627.16 L236.39,627.19 L238.58,627.21 L240.78,627.24 L242.98,627.26 L245.18,627.29 L247.38,627.31 L249.57,627.33 L251.77,627.35 L253.97,627.37 L256.17,627.39 L258.37,627.4 L260.56,627.42 L262.76,627.43 L264.96,627.45 L267.16,627.46 L269.36,627.47 L271.55,627.48 L273.75,627.49 L275.95,627.5 L278.15,627.51 L280.35,627.52 L282.54,627.53 L284.74,627.54 L286.94,627.54 L289.14,627.55 L291.34,627.56 L293.53,627.56 L295.73,627.57 L297.93,627.58 L300.13,627.58 L302.33,627.59 L304.52,627.59 L306.72,627.6 L308.92,627.6 L311.12,627.6 L313.32,627.61 L315.51,627.61 L317.71,627.61 L319.91,627.62 L322.11,627.62 L324.31,627.62 L326.5,627.62 L328.7,627.63 L330.9,627.63" fill="none" stroke="#1010ee" stroke-width="1.6" stroke-linejoin="round"/><path d="M426,621.82 L427.47,606.17 L428.93,591.93 L430.4,578.97 L431.86,567.19 L433.33,556.47 L434.79,546.73 L436.26,537.86 L437.72,529.79 L439.19,522.45 L440.65,515.77 L442.12,509.7 L443.58,504.17 L445.05,499.14 L446.51,494.57 L447.98,490.4 L449.45,486.61 L450.91,483.16 L452.38,480.02 L453.84,477.16 L455.31,474.56 L456.77,472.19 L458.24,470.02 L459.7,468.06 L461.17,466.26 L462.63,464.62 L464.1,463.13 L465.56,461.77 L467.03,460.53 L468.49,459.39 L469.96,458.36 L471.43,457.41 L472.89,456.54 L474.36,455.75 L475.82,455.02 L477.29,454.36 L478.75,453.75 L480.22,453.19 L481.68,452.67 L483.15,452.2 L484.61,451.76 L486.08,451.36 L487.54,450.99 L489.01,450.65 L490.47,450.33 L491.94,450.03 L493.41,449.76 L494.87,449.51 L496.34,449.27 L497.8,449.05 L499.27,448.85 L500.73,448.65 L502.2,448.47 L503.66,448.3 L505.13,448.14 L506.59,447.99 L508.06,447.84 L509.52,447.71 L510.99,447.58 L512.45,447.46 L513.92,447.34 L515.39,447.22 L516.85,447.11 L518.32,447.01 L519.78,446.91 L521.25,446.81 L522.71,446.72 L524.18,446.63 L525.64,446.54 L527.11,446.45 L528.57,446.36 L530.04,446.28 L531.5,446.2 L532.97,446.12 L534.43,446.04 L535.9,445.97 L535.9,438.29 L535.9,460.63 L536.19,452.96 L538.1,454.41 L540.3,455.79 L542.49,457.09 L544.69,458.33 L546.89,459.49 L549.09,460.6 L551.29,461.64 L553.48,462.63 L555.68,463.56 L557.88,464.44 L560.08,465.28 L562.28,466.07 L564.47,466.81 L566.67,467.52 L568.87,468.19 L571.07,468.82 L573.27,469.42 L575.46,469.98 L577.66,470.52 L579.86,471.02 L582.06,471.5 L584.26,471.95 L586.45,472.38 L588.65,472.79 L590.85,473.17 L593.05,473.53 L595.25,473.88 L597.44,474.2 L599.64,474.51 L601.84,474.8 L604.04,475.07 L606.24,475.33 L608.43,475.57 L610.63,475.81 L612.83,476.03 L615.03,476.23 L617.23,476.43 L619.42,476.61 L621.62,476.79 L623.82,476.96 L626.02,477.11 L628.22,477.26 L630.41,477.4 L632.61,477.54 L634.81,477.66 L637.01,477.78 L639.21,477.89 L641.4,478 L643.6,478.1 L645.8,478.2" fill="none" stroke="#1010ee" stroke-width="1.45" stroke-dasharray="3.9 2.3" stroke-linejoin="round"/><path d="M426,621.82 L427.47,615.82 L428.93,610.03 L430.4,604.44 L431.86,599.05 L433.33,593.87 L434.79,588.87 L436.26,584.07 L437.72,579.45 L439.19,575 L440.65,570.74 L442.12,566.64 L443.58,562.7 L445.05,558.92 L446.51,555.29 L447.98,551.81 L449.45,548.48 L450.91,545.27 L452.38,542.2 L453.84,539.26 L455.31,536.43 L456.77,533.72 L458.24,531.13 L459.7,528.64 L461.17,526.25 L462.63,523.97 L464.1,521.77 L465.56,519.67 L467.03,517.66 L468.49,515.73 L469.96,513.87 L471.43,512.1 L472.89,510.39 L474.36,508.76 L475.82,507.2 L477.29,505.69 L478.75,504.25 L480.22,502.87 L481.68,501.55 L483.15,500.27 L484.61,499.05 L486.08,497.88 L487.54,496.76 L489.01,495.68 L490.47,494.64 L491.94,493.65 L493.41,492.69 L494.87,491.77 L496.34,490.89 L497.8,490.04 L499.27,489.22 L500.73,488.44 L502.2,487.68 L503.66,486.96 L505.13,486.26 L506.59,485.58 L508.06,484.94 L509.52,484.31 L510.99,483.71 L512.45,483.13 L513.92,482.57 L515.39,482.03 L516.85,481.51 L518.32,481.01 L519.78,480.53 L521.25,480.06 L522.71,479.61 L524.18,479.17 L525.64,478.75 L527.11,478.34 L528.57,477.95 L530.04,477.56 L531.5,477.19 L532.97,476.84 L534.43,476.49 L535.9,476.15 L535.9,467.74 L535.9,488.41 L536.19,481.83 L538.1,482.47 L540.3,483.08 L542.49,483.67 L544.69,484.24 L546.89,484.79 L549.09,485.32 L551.29,485.82 L553.48,486.31 L555.68,486.78 L557.88,487.24 L560.08,487.67 L562.28,488.1 L564.47,488.5 L566.67,488.89 L568.87,489.27 L571.07,489.63 L573.27,489.97 L575.46,490.31 L577.66,490.63 L579.86,490.94 L582.06,491.24 L584.26,491.53 L586.45,491.81 L588.65,492.08 L590.85,492.33 L593.05,492.58 L595.25,492.82 L597.44,493.05 L599.64,493.27 L601.84,493.48 L604.04,493.69 L606.24,493.88 L608.43,494.07 L610.63,494.26 L612.83,494.43 L615.03,494.6 L617.23,494.77 L619.42,494.92 L621.62,495.08 L623.82,495.22 L626.02,495.36 L628.22,495.5 L630.41,495.63 L632.61,495.75 L634.81,495.87 L637.01,495.99 L639.21,496.1 L641.4,496.21 L643.6,496.31 L645.8,496.41" fill="none" stroke="#1010ee" stroke-width="1.45" stroke-dasharray="3.9 2.3" stroke-linejoin="round"/><path d="M426,621.82 L427.47,620.21 L428.93,618.56 L430.4,616.89 L431.86,615.19 L433.33,613.47 L434.79,611.75 L436.26,610.02 L437.72,608.3 L439.19,606.58 L440.65,604.87 L442.12,603.18 L443.58,601.49 L445.05,599.83 L446.51,598.18 L447.98,596.56 L449.45,594.95 L450.91,593.37 L452.38,591.81 L453.84,590.28 L455.31,588.77 L456.77,587.29 L458.24,585.83 L459.7,584.39 L461.17,582.98 L462.63,581.6 L464.1,580.24 L465.56,578.9 L467.03,577.6 L468.49,576.31 L469.96,575.05 L471.43,573.82 L472.89,572.61 L474.36,571.42 L475.82,570.26 L477.29,569.12 L478.75,568 L480.22,566.91 L481.68,565.84 L483.15,564.79 L484.61,563.76 L486.08,562.75 L487.54,561.77 L489.01,560.8 L490.47,559.85 L491.94,558.93 L493.41,558.02 L494.87,557.14 L496.34,556.27 L497.8,555.42 L499.27,554.59 L500.73,553.78 L502.2,552.98 L503.66,552.21 L505.13,551.44 L506.59,550.7 L508.06,549.97 L509.52,549.26 L510.99,548.57 L512.45,547.89 L513.92,547.22 L515.39,546.57 L516.85,545.93 L518.32,545.31 L519.78,544.71 L521.25,544.11 L522.71,543.53 L524.18,542.97 L525.64,542.42 L527.11,541.88 L528.57,541.35 L530.04,540.83 L531.5,540.33 L532.97,539.84 L534.43,539.36 L535.9,538.89 L535.9,534.14 L535.9,550.18 L536.19,543.6 L538.1,543.86 L540.3,544.1 L542.49,544.34 L544.69,544.57 L546.89,544.79 L549.09,545 L551.29,545.21 L553.48,545.4 L555.68,545.59 L557.88,545.77 L560.08,545.95 L562.28,546.12 L564.47,546.28 L566.67,546.44 L568.87,546.59 L571.07,546.73 L573.27,546.87 L575.46,547 L577.66,547.13 L579.86,547.26 L582.06,547.38 L584.26,547.49 L586.45,547.6 L588.65,547.71 L590.85,547.81 L593.05,547.91 L595.25,548 L597.44,548.1 L599.64,548.18 L601.84,548.27 L604.04,548.35 L606.24,548.43 L608.43,548.5 L610.63,548.58 L612.83,548.65 L615.03,548.71 L617.23,548.78 L619.42,548.84 L621.62,548.9 L623.82,548.96 L626.02,549.01 L628.22,549.07 L630.41,549.12 L632.61,549.17 L634.81,549.21 L637.01,549.26 L639.21,549.3 L641.4,549.35 L643.6,549.39 L645.8,549.43" fill="none" stroke="#1010ee" stroke-width="1.45" stroke-dasharray="3.9 2.3" stroke-linejoin="round"/><path d="M426,621.82 L427.47,621.42 L428.93,620.96 L430.4,620.45 L431.86,619.91 L433.33,619.33 L434.79,618.72 L436.26,618.1 L437.72,617.45 L439.19,616.8 L440.65,616.14 L442.12,615.48 L443.58,614.81 L445.05,614.15 L446.51,613.48 L447.98,612.83 L449.45,612.17 L450.91,611.53 L452.38,610.89 L453.84,610.26 L455.31,609.64 L456.77,609.03 L458.24,608.43 L459.7,607.84 L461.17,607.26 L462.63,606.69 L464.1,606.14 L465.56,605.59 L467.03,605.06 L468.49,604.54 L469.96,604.02 L471.43,603.52 L472.89,603.04 L474.36,602.56 L475.82,602.09 L477.29,601.63 L478.75,601.19 L480.22,600.75 L481.68,600.33 L483.15,599.91 L484.61,599.51 L486.08,599.11 L487.54,598.72 L489.01,598.35 L490.47,597.98 L491.94,597.62 L493.41,597.27 L494.87,596.92 L496.34,596.59 L497.8,596.26 L499.27,595.95 L500.73,595.64 L502.2,595.33 L503.66,595.04 L505.13,594.75 L506.59,594.47 L508.06,594.19 L509.52,593.93 L510.99,593.67 L512.45,593.41 L513.92,593.16 L515.39,592.92 L516.85,592.68 L518.32,592.45 L519.78,592.23 L521.25,592.01 L522.71,591.8 L524.18,591.59 L525.64,591.38 L527.11,591.19 L528.57,590.99 L530.04,590.8 L531.5,590.62 L532.97,590.44 L534.43,590.26 L535.9,590.09 L535.9,584.06 L535.9,601.5 L536.19,594.19 L538.1,594.31 L540.3,594.43 L542.49,594.55 L544.69,594.66 L546.89,594.78 L549.09,594.89 L551.29,594.99 L553.48,595.1 L555.68,595.2 L557.88,595.3 L560.08,595.4 L562.28,595.49 L564.47,595.59 L566.67,595.68 L568.87,595.76 L571.07,595.85 L573.27,595.94 L575.46,596.02 L577.66,596.1 L579.86,596.18 L582.06,596.25 L584.26,596.33 L586.45,596.4 L588.65,596.47 L590.85,596.54 L593.05,596.61 L595.25,596.67 L597.44,596.74 L599.64,596.8 L601.84,596.86 L604.04,596.92 L606.24,596.98 L608.43,597.04 L610.63,597.09 L612.83,597.15 L615.03,597.2 L617.23,597.25 L619.42,597.31 L621.62,597.35 L623.82,597.4 L626.02,597.45 L628.22,597.5 L630.41,597.54 L632.61,597.58 L634.81,597.63 L637.01,597.67 L639.21,597.71 L641.4,597.75 L643.6,597.79 L645.8,597.83" fill="none" stroke="#1010ee" stroke-width="1.45" stroke-dasharray="3.9 2.3" stroke-linejoin="round"/><path d="M426,621.82 L427.47,622.12 L428.93,622.34 L430.4,622.5 L431.86,622.6 L433.33,622.66 L434.79,622.66 L436.26,622.64 L437.72,622.58 L439.19,622.5 L440.65,622.39 L442.12,622.26 L443.58,622.12 L445.05,621.97 L446.51,621.8 L447.98,621.63 L449.45,621.45 L450.91,621.26 L452.38,621.07 L453.84,620.88 L455.31,620.69 L456.77,620.49 L458.24,620.29 L459.7,620.09 L461.17,619.9 L462.63,619.7 L464.1,619.51 L465.56,619.32 L467.03,619.13 L468.49,618.94 L469.96,618.75 L471.43,618.57 L472.89,618.39 L474.36,618.22 L475.82,618.04 L477.29,617.87 L478.75,617.7 L480.22,617.54 L481.68,617.38 L483.15,617.22 L484.61,617.06 L486.08,616.91 L487.54,616.76 L489.01,616.62 L490.47,616.47 L491.94,616.33 L493.41,616.19 L494.87,616.06 L496.34,615.93 L497.8,615.8 L499.27,615.67 L500.73,615.55 L502.2,615.43 L503.66,615.31 L505.13,615.19 L506.59,615.08 L508.06,614.97 L509.52,614.86 L510.99,614.76 L512.45,614.65 L513.92,614.55 L515.39,614.45 L516.85,614.36 L518.32,614.26 L519.78,614.17 L521.25,614.08 L522.71,613.99 L524.18,613.9 L525.64,613.82 L527.11,613.73 L528.57,613.65 L530.04,613.57 L531.5,613.5 L532.97,613.42 L534.43,613.35 L535.9,613.27 L535.9,607.79 L535.9,620.72 L536.19,617.8 L538.1,617.87 L540.3,617.93 L542.49,618 L544.69,618.07 L546.89,618.14 L549.09,618.2 L551.29,618.27 L553.48,618.34 L555.68,618.41 L557.88,618.47 L560.08,618.54 L562.28,618.61 L564.47,618.67 L566.67,618.74 L568.87,618.8 L571.07,618.87 L573.27,618.93 L575.46,619 L577.66,619.07 L579.86,619.13 L582.06,619.2 L584.26,619.26 L586.45,619.33 L588.65,619.39 L590.85,619.45 L593.05,619.52 L595.25,619.58 L597.44,619.65 L599.64,619.71 L601.84,619.77 L604.04,619.84 L606.24,619.9 L608.43,619.96 L610.63,620.03 L612.83,620.09 L615.03,620.15 L617.23,620.21 L619.42,620.28 L621.62,620.34 L623.82,620.4 L626.02,620.46 L628.22,620.52 L630.41,620.59 L632.61,620.65 L634.81,620.71 L637.01,620.77 L639.21,620.83 L641.4,620.89 L643.6,620.95 L645.8,621.01" fill="none" stroke="#1010ee" stroke-width="1.45" stroke-dasharray="3.9 2.3" stroke-linejoin="round"/><path d="M426,621.82 L427.47,622.4 L428.93,622.9 L430.4,623.32 L431.86,623.68 L433.33,623.99 L434.79,624.25 L436.26,624.47 L437.72,624.65 L439.19,624.8 L440.65,624.92 L442.12,625.02 L443.58,625.1 L445.05,625.16 L446.51,625.2 L447.98,625.23 L449.45,625.25 L450.91,625.26 L452.38,625.26 L453.84,625.26 L455.31,625.25 L456.77,625.23 L458.24,625.21 L459.7,625.18 L461.17,625.16 L462.63,625.13 L464.1,625.09 L465.56,625.06 L467.03,625.02 L468.49,624.99 L469.96,624.95 L471.43,624.91 L472.89,624.87 L474.36,624.83 L475.82,624.79 L477.29,624.76 L478.75,624.72 L480.22,624.68 L481.68,624.64 L483.15,624.6 L484.61,624.57 L486.08,624.53 L487.54,624.49 L489.01,624.46 L490.47,624.42 L491.94,624.39 L493.41,624.36 L494.87,624.32 L496.34,624.29 L497.8,624.26 L499.27,624.23 L500.73,624.2 L502.2,624.17 L503.66,624.14 L505.13,624.11 L506.59,624.08 L508.06,624.05 L509.52,624.03 L510.99,624 L512.45,623.98 L513.92,623.95 L515.39,623.93 L516.85,623.9 L518.32,623.88 L519.78,623.86 L521.25,623.83 L522.71,623.81 L524.18,623.79 L525.64,623.77 L527.11,623.75 L528.57,623.73 L530.04,623.71 L531.5,623.69 L532.97,623.67 L534.43,623.66 L535.9,623.64 L535.9,621.81 L535.9,626.2 L536.19,625.11 L538.1,625.15 L540.3,625.19 L542.49,625.23 L544.69,625.27 L546.89,625.31 L549.09,625.35 L551.29,625.38 L553.48,625.42 L555.68,625.45 L557.88,625.49 L560.08,625.52 L562.28,625.55 L564.47,625.58 L566.67,625.61 L568.87,625.64 L571.07,625.66 L573.27,625.69 L575.46,625.72 L577.66,625.74 L579.86,625.77 L582.06,625.79 L584.26,625.81 L586.45,625.84 L588.65,625.86 L590.85,625.88 L593.05,625.9 L595.25,625.92 L597.44,625.94 L599.64,625.96 L601.84,625.97 L604.04,625.99 L606.24,626.01 L608.43,626.03 L610.63,626.04 L612.83,626.06 L615.03,626.07 L617.23,626.09 L619.42,626.1 L621.62,626.12 L623.82,626.13 L626.02,626.14 L628.22,626.15 L630.41,626.17 L632.61,626.18 L634.81,626.19 L637.01,626.2 L639.21,626.21 L641.4,626.22 L643.6,626.23 L645.8,626.24" fill="none" stroke="#1010ee" stroke-width="1.45" stroke-dasharray="3.9 2.3" stroke-linejoin="round"/><path d="M426,621.82 L427.47,622.16 L428.93,622.48 L430.4,622.79 L431.86,623.07 L433.33,623.33 L434.79,623.58 L436.26,623.81 L437.72,624.02 L439.19,624.22 L440.65,624.41 L442.12,624.58 L443.58,624.75 L445.05,624.9 L446.51,625.04 L447.98,625.17 L449.45,625.3 L450.91,625.41 L452.38,625.52 L453.84,625.62 L455.31,625.72 L456.77,625.8 L458.24,625.89 L459.7,625.96 L461.17,626.03 L462.63,626.1 L464.1,626.16 L465.56,626.22 L467.03,626.27 L468.49,626.32 L469.96,626.37 L471.43,626.41 L472.89,626.45 L474.36,626.49 L475.82,626.53 L477.29,626.56 L478.75,626.59 L480.22,626.62 L481.68,626.65 L483.15,626.67 L484.61,626.69 L486.08,626.71 L487.54,626.73 L489.01,626.75 L490.47,626.77 L491.94,626.79 L493.41,626.8 L494.87,626.81 L496.34,626.83 L497.8,626.84 L499.27,626.85 L500.73,626.86 L502.2,626.87 L503.66,626.88 L505.13,626.88 L506.59,626.89 L508.06,626.9 L509.52,626.9 L510.99,626.91 L512.45,626.92 L513.92,626.92 L515.39,626.93 L516.85,626.93 L518.32,626.93 L519.78,626.94 L521.25,626.94 L522.71,626.94 L524.18,626.94 L525.64,626.95 L527.11,626.95 L528.57,626.95 L530.04,626.95 L531.5,626.95 L532.97,626.96 L534.43,626.96 L535.9,626.96 L535.9,626.23 L535.9,626.93 L536.19,626.57 L538.1,626.58 L540.3,626.59 L542.49,626.6 L544.69,626.61 L546.89,626.62 L549.09,626.63 L551.29,626.64 L553.48,626.65 L555.68,626.66 L557.88,626.66 L560.08,626.67 L562.28,626.68 L564.47,626.69 L566.67,626.69 L568.87,626.7 L571.07,626.71 L573.27,626.72 L575.46,626.72 L577.66,626.73 L579.86,626.73 L582.06,626.74 L584.26,626.75 L586.45,626.75 L588.65,626.76 L590.85,626.76 L593.05,626.77 L595.25,626.77 L597.44,626.78 L599.64,626.78 L601.84,626.79 L604.04,626.79 L606.24,626.79 L608.43,626.8 L610.63,626.8 L612.83,626.81 L615.03,626.81 L617.23,626.81 L619.42,626.82 L621.62,626.82 L623.82,626.82 L626.02,626.83 L628.22,626.83 L630.41,626.83 L632.61,626.84 L634.81,626.84 L637.01,626.84 L639.21,626.85 L641.4,626.85 L643.6,626.85 L645.8,626.85" fill="none" stroke="#1010ee" stroke-width="1.45" stroke-dasharray="3.9 2.3" stroke-linejoin="round"/><path d="M111.1,931.92 L112.57,925.07 L114.03,918.76 L115.5,912.95 L116.96,907.59 L118.43,902.65 L119.89,898.1 L121.36,893.92 L122.82,890.06 L124.29,886.51 L125.75,883.25 L127.22,880.24 L128.68,877.47 L130.15,874.93 L131.61,872.59 L133.08,870.44 L134.55,868.46 L136.01,866.63 L137.48,864.96 L138.94,863.42 L140.41,862.01 L141.87,860.71 L143.34,859.51 L144.8,858.41 L146.27,857.4 L147.73,856.47 L149.2,855.62 L150.66,854.84 L152.13,854.12 L153.59,853.46 L155.06,852.85 L156.53,852.29 L157.99,851.78 L159.46,851.31 L160.92,850.87 L162.39,850.48 L163.85,850.11 L165.32,849.78 L166.78,849.47 L168.25,849.19 L169.71,848.93 L171.18,848.69 L172.64,848.47 L174.11,848.27 L175.57,848.09 L177.04,847.92 L178.51,847.76 L179.97,847.62 L181.44,847.49 L182.9,847.37 L184.37,847.26 L185.83,847.16 L187.3,847.06 L188.76,846.98 L190.23,846.9 L191.69,846.83 L193.16,846.76 L194.62,846.7 L196.09,846.65 L197.55,846.59 L199.02,846.55 L200.49,846.5 L201.95,846.47 L203.42,846.43 L204.88,846.4 L206.35,846.37 L207.81,846.34 L209.28,846.31 L210.74,846.29 L212.21,846.27 L213.67,846.25 L215.14,846.23 L216.6,846.21 L218.07,846.2 L219.53,846.18 L221,846.17 L221,838.68 L221,858.82 L221.29,851.87 L223.2,855.52 L225.4,858.98 L227.59,862.26 L229.79,865.37 L231.99,868.33 L234.19,871.13 L236.39,873.78 L238.58,876.3 L240.78,878.69 L242.98,880.96 L245.18,883.11 L247.38,885.15 L249.57,887.09 L251.77,888.92 L253.97,890.66 L256.17,892.32 L258.37,893.88 L260.56,895.37 L262.76,896.78 L264.96,898.12 L267.16,899.38 L269.36,900.59 L271.55,901.73 L273.75,902.81 L275.95,903.84 L278.15,904.81 L280.35,905.74 L282.54,906.61 L284.74,907.44 L286.94,908.23 L289.14,908.98 L291.34,909.69 L293.53,910.36 L295.73,911 L297.93,911.61 L300.13,912.18 L302.33,912.73 L304.52,913.25 L306.72,913.74 L308.92,914.2 L311.12,914.64 L313.32,915.06 L315.51,915.46 L317.71,915.83 L319.91,916.19 L322.11,916.53 L324.31,916.85 L326.5,917.16 L328.7,917.45 L330.9,917.72" fill="none" stroke="#ee1111" stroke-width="1.6" stroke-linejoin="round"/><path d="M111.1,931.92 L112.57,929.13 L114.03,926.5 L115.5,924.01 L116.96,921.66 L118.43,919.45 L119.89,917.36 L121.36,915.4 L122.82,913.56 L124.29,911.82 L125.75,910.19 L127.22,908.66 L128.68,907.22 L130.15,905.87 L131.61,904.6 L133.08,903.41 L134.55,902.3 L136.01,901.25 L137.48,900.27 L138.94,899.35 L140.41,898.49 L141.87,897.68 L143.34,896.92 L144.8,896.21 L146.27,895.55 L147.73,894.92 L149.2,894.34 L150.66,893.79 L152.13,893.27 L153.59,892.79 L155.06,892.33 L156.53,891.91 L157.99,891.5 L159.46,891.13 L160.92,890.77 L162.39,890.44 L163.85,890.13 L165.32,889.83 L166.78,889.56 L168.25,889.29 L169.71,889.05 L171.18,888.81 L172.64,888.59 L174.11,888.39 L175.57,888.19 L177.04,888 L178.51,887.83 L179.97,887.66 L181.44,887.5 L182.9,887.35 L184.37,887.21 L185.83,887.07 L187.3,886.94 L188.76,886.81 L190.23,886.7 L191.69,886.58 L193.16,886.47 L194.62,886.37 L196.09,886.27 L197.55,886.17 L199.02,886.08 L200.49,885.99 L201.95,885.91 L203.42,885.82 L204.88,885.74 L206.35,885.66 L207.81,885.59 L209.28,885.51 L210.74,885.44 L212.21,885.37 L213.67,885.31 L215.14,885.24 L216.6,885.18 L218.07,885.11 L219.53,885.05 L221,884.99 L221,878.41 L221,898.66 L221.29,891.35 L223.2,893.01 L225.4,894.6 L227.59,896.13 L229.79,897.6 L231.99,899.02 L234.19,900.37 L236.39,901.68 L238.58,902.93 L240.78,904.14 L242.98,905.3 L245.18,906.41 L247.38,907.48 L249.57,908.51 L251.77,909.49 L253.97,910.44 L256.17,911.35 L258.37,912.23 L260.56,913.07 L262.76,913.88 L264.96,914.66 L267.16,915.4 L269.36,916.12 L271.55,916.81 L273.75,917.47 L275.95,918.11 L278.15,918.72 L280.35,919.31 L282.54,919.87 L284.74,920.42 L286.94,920.94 L289.14,921.44 L291.34,921.92 L293.53,922.38 L295.73,922.83 L297.93,923.25 L300.13,923.66 L302.33,924.06 L304.52,924.44 L306.72,924.8 L308.92,925.15 L311.12,925.49 L313.32,925.81 L315.51,926.12 L317.71,926.42 L319.91,926.71 L322.11,926.98 L324.31,927.25 L326.5,927.5 L328.7,927.74 L330.9,927.98" fill="none" stroke="#ee1111" stroke-width="1.6" stroke-linejoin="round"/><path d="M111.1,931.92 L112.57,931.17 L114.03,930.43 L115.5,929.7 L116.96,929 L118.43,928.31 L119.89,927.65 L121.36,927.01 L122.82,926.4 L124.29,925.81 L125.75,925.25 L127.22,924.71 L128.68,924.2 L130.15,923.71 L131.61,923.24 L133.08,922.8 L134.55,922.38 L136.01,921.98 L137.48,921.6 L138.94,921.24 L140.41,920.9 L141.87,920.58 L143.34,920.27 L144.8,919.98 L146.27,919.71 L147.73,919.45 L149.2,919.2 L150.66,918.97 L152.13,918.75 L153.59,918.54 L155.06,918.35 L156.53,918.16 L157.99,917.98 L159.46,917.81 L160.92,917.65 L162.39,917.5 L163.85,917.35 L165.32,917.22 L166.78,917.08 L168.25,916.96 L169.71,916.84 L171.18,916.73 L172.64,916.62 L174.11,916.51 L175.57,916.41 L177.04,916.32 L178.51,916.22 L179.97,916.14 L181.44,916.05 L182.9,915.97 L184.37,915.89 L185.83,915.81 L187.3,915.74 L188.76,915.67 L190.23,915.6 L191.69,915.53 L193.16,915.47 L194.62,915.4 L196.09,915.34 L197.55,915.28 L199.02,915.22 L200.49,915.17 L201.95,915.11 L203.42,915.06 L204.88,915 L206.35,914.95 L207.81,914.9 L209.28,914.85 L210.74,914.8 L212.21,914.75 L213.67,914.7 L215.14,914.65 L216.6,914.6 L218.07,914.56 L219.53,914.51 L221,914.46 L221,909.71 L221,924.61 L221.29,920.22 L223.2,921.03 L225.4,921.79 L227.59,922.53 L229.79,923.23 L231.99,923.9 L234.19,924.55 L236.39,925.16 L238.58,925.75 L240.78,926.31 L242.98,926.84 L245.18,927.36 L247.38,927.85 L249.57,928.32 L251.77,928.76 L253.97,929.19 L256.17,929.6 L258.37,929.99 L260.56,930.37 L262.76,930.72 L264.96,931.07 L267.16,931.39 L269.36,931.71 L271.55,932 L273.75,932.29 L275.95,932.56 L278.15,932.82 L280.35,933.07 L282.54,933.31 L284.74,933.54 L286.94,933.76 L289.14,933.97 L291.34,934.17 L293.53,934.36 L295.73,934.54 L297.93,934.71 L300.13,934.88 L302.33,935.04 L304.52,935.19 L306.72,935.34 L308.92,935.48 L311.12,935.61 L313.32,935.74 L315.51,935.86 L317.71,935.97 L319.91,936.08 L322.11,936.19 L324.31,936.29 L326.5,936.39 L328.7,936.48 L330.9,936.57" fill="none" stroke="#ee1111" stroke-width="1.6" stroke-linejoin="round"/><path d="M111.1,931.92 L112.57,931.79 L114.03,931.66 L115.5,931.55 L116.96,931.44 L118.43,931.33 L119.89,931.23 L121.36,931.14 L122.82,931.05 L124.29,930.96 L125.75,930.88 L127.22,930.8 L128.68,930.73 L130.15,930.66 L131.61,930.59 L133.08,930.53 L134.55,930.47 L136.01,930.42 L137.48,930.36 L138.94,930.31 L140.41,930.26 L141.87,930.22 L143.34,930.17 L144.8,930.13 L146.27,930.09 L147.73,930.06 L149.2,930.02 L150.66,929.99 L152.13,929.96 L153.59,929.93 L155.06,929.9 L156.53,929.87 L157.99,929.84 L159.46,929.82 L160.92,929.8 L162.39,929.77 L163.85,929.75 L165.32,929.73 L166.78,929.71 L168.25,929.7 L169.71,929.68 L171.18,929.66 L172.64,929.65 L174.11,929.63 L175.57,929.62 L177.04,929.61 L178.51,929.59 L179.97,929.58 L181.44,929.57 L182.9,929.56 L184.37,929.55 L185.83,929.54 L187.3,929.53 L188.76,929.52 L190.23,929.51 L191.69,929.51 L193.16,929.5 L194.62,929.49 L196.09,929.48 L197.55,929.48 L199.02,929.47 L200.49,929.47 L201.95,929.46 L203.42,929.46 L204.88,929.45 L206.35,929.45 L207.81,929.44 L209.28,929.44 L210.74,929.43 L212.21,929.43 L213.67,929.43 L215.14,929.42 L216.6,929.42 L218.07,929.42 L219.53,929.41 L221,929.41 L221,926.49 L221,935.57 L221.29,934.11 L223.2,934.32 L225.4,934.52 L227.59,934.71 L229.79,934.89 L231.99,935.06 L234.19,935.22 L236.39,935.36 L238.58,935.5 L240.78,935.64 L242.98,935.76 L245.18,935.88 L247.38,935.99 L249.57,936.09 L251.77,936.19 L253.97,936.28 L256.17,936.37 L258.37,936.45 L260.56,936.52 L262.76,936.6 L264.96,936.66 L267.16,936.73 L269.36,936.79 L271.55,936.85 L273.75,936.9 L275.95,936.95 L278.15,937 L280.35,937.04 L282.54,937.08 L284.74,937.12 L286.94,937.16 L289.14,937.2 L291.34,937.23 L293.53,937.26 L295.73,937.29 L297.93,937.32 L300.13,937.34 L302.33,937.37 L304.52,937.39 L306.72,937.41 L308.92,937.43 L311.12,937.45 L313.32,937.47 L315.51,937.49 L317.71,937.5 L319.91,937.52 L322.11,937.53 L324.31,937.55 L326.5,937.56 L328.7,937.57 L330.9,937.58" fill="none" stroke="#ee1111" stroke-width="1.6" stroke-linejoin="round"/><path d="M111.1,931.92 L112.57,931.95 L114.03,931.99 L115.5,932.03 L116.96,932.07 L118.43,932.11 L119.89,932.15 L121.36,932.19 L122.82,932.23 L124.29,932.27 L125.75,932.31 L127.22,932.35 L128.68,932.39 L130.15,932.43 L131.61,932.47 L133.08,932.51 L134.55,932.56 L136.01,932.6 L137.48,932.64 L138.94,932.68 L140.41,932.72 L141.87,932.76 L143.34,932.8 L144.8,932.84 L146.27,932.88 L147.73,932.92 L149.2,932.96 L150.66,933 L152.13,933.04 L153.59,933.08 L155.06,933.11 L156.53,933.15 L157.99,933.19 L159.46,933.23 L160.92,933.26 L162.39,933.3 L163.85,933.34 L165.32,933.37 L166.78,933.41 L168.25,933.44 L169.71,933.48 L171.18,933.51 L172.64,933.55 L174.11,933.58 L175.57,933.61 L177.04,933.65 L178.51,933.68 L179.97,933.71 L181.44,933.74 L182.9,933.77 L184.37,933.8 L185.83,933.83 L187.3,933.86 L188.76,933.89 L190.23,933.92 L191.69,933.95 L193.16,933.98 L194.62,934.01 L196.09,934.03 L197.55,934.06 L199.02,934.09 L200.49,934.11 L201.95,934.14 L203.42,934.16 L204.88,934.19 L206.35,934.21 L207.81,934.24 L209.28,934.26 L210.74,934.29 L212.21,934.31 L213.67,934.33 L215.14,934.35 L216.6,934.38 L218.07,934.4 L219.53,934.42 L221,934.44 L221,933.34 L221,936.67 L221.29,935.94 L223.2,936.04 L225.4,936.14 L227.59,936.24 L229.79,936.33 L231.99,936.41 L234.19,936.49 L236.39,936.56 L238.58,936.63 L240.78,936.7 L242.98,936.76 L245.18,936.82 L247.38,936.88 L249.57,936.93 L251.77,936.98 L253.97,937.02 L256.17,937.07 L258.37,937.11 L260.56,937.14 L262.76,937.18 L264.96,937.22 L267.16,937.25 L269.36,937.28 L271.55,937.31 L273.75,937.33 L275.95,937.36 L278.15,937.38 L280.35,937.4 L282.54,937.42 L284.74,937.44 L286.94,937.46 L289.14,937.48 L291.34,937.5 L293.53,937.51 L295.73,937.53 L297.93,937.54 L300.13,937.55 L302.33,937.57 L304.52,937.58 L306.72,937.59 L308.92,937.6 L311.12,937.61 L313.32,937.62 L315.51,937.63 L317.71,937.64 L319.91,937.64 L322.11,937.65 L324.31,937.66 L326.5,937.66 L328.7,937.67 L330.9,937.67" fill="none" stroke="#ee1111" stroke-width="1.6" stroke-linejoin="round"/><path d="M111.1,931.92 L112.57,932.26 L114.03,932.57 L115.5,932.87 L116.96,933.15 L118.43,933.41 L119.89,933.65 L121.36,933.87 L122.82,934.08 L124.29,934.28 L125.75,934.46 L127.22,934.64 L128.68,934.8 L130.15,934.95 L131.61,935.09 L133.08,935.22 L134.55,935.34 L136.01,935.45 L137.48,935.56 L138.94,935.66 L140.41,935.75 L141.87,935.84 L143.34,935.92 L144.8,936 L146.27,936.07 L147.73,936.13 L149.2,936.19 L150.66,936.25 L152.13,936.31 L153.59,936.36 L155.06,936.4 L156.53,936.45 L157.99,936.49 L159.46,936.52 L160.92,936.56 L162.39,936.59 L163.85,936.62 L165.32,936.65 L166.78,936.68 L168.25,936.7 L169.71,936.73 L171.18,936.75 L172.64,936.77 L174.11,936.79 L175.57,936.81 L177.04,936.82 L178.51,936.84 L179.97,936.85 L181.44,936.86 L182.9,936.88 L184.37,936.89 L185.83,936.9 L187.3,936.91 L188.76,936.92 L190.23,936.93 L191.69,936.93 L193.16,936.94 L194.62,936.95 L196.09,936.96 L197.55,936.96 L199.02,936.97 L200.49,936.97 L201.95,936.98 L203.42,936.98 L204.88,936.99 L206.35,936.99 L207.81,936.99 L209.28,937 L210.74,937 L212.21,937 L213.67,937.01 L215.14,937.01 L216.6,937.01 L218.07,937.01 L219.53,937.01 L221,937.02 L221,936.28 L221,937.4 L221.29,937.03 L223.2,937.08 L225.4,937.12 L227.59,937.15 L229.79,937.19 L231.99,937.22 L234.19,937.26 L236.39,937.29 L238.58,937.31 L240.78,937.34 L242.98,937.36 L245.18,937.39 L247.38,937.41 L249.57,937.43 L251.77,937.45 L253.97,937.47 L256.17,937.49 L258.37,937.5 L260.56,937.52 L262.76,937.53 L264.96,937.55 L267.16,937.56 L269.36,937.57 L271.55,937.58 L273.75,937.59 L275.95,937.6 L278.15,937.61 L280.35,937.62 L282.54,937.63 L284.74,937.64 L286.94,937.64 L289.14,937.65 L291.34,937.66 L293.53,937.66 L295.73,937.67 L297.93,937.68 L300.13,937.68 L302.33,937.69 L304.52,937.69 L306.72,937.7 L308.92,937.7 L311.12,937.7 L313.32,937.71 L315.51,937.71 L317.71,937.71 L319.91,937.72 L322.11,937.72 L324.31,937.72 L326.5,937.72 L328.7,937.73 L330.9,937.73" fill="none" stroke="#ee1111" stroke-width="1.6" stroke-linejoin="round"/><path d="M426,931.92 L427.47,915.16 L428.93,899.93 L430.4,886.1 L431.86,873.54 L433.33,862.12 L434.79,851.74 L436.26,842.31 L437.72,833.75 L439.19,825.96 L440.65,818.88 L442.12,812.44 L443.58,806.59 L445.05,801.26 L446.51,796.42 L447.98,792.02 L449.45,788 L450.91,784.35 L452.38,781.03 L453.84,778 L455.31,775.24 L456.77,772.72 L458.24,770.42 L459.7,768.33 L461.17,766.41 L462.63,764.66 L464.1,763.06 L465.56,761.6 L467.03,760.25 L468.49,759.03 L469.96,757.9 L471.43,756.86 L472.89,755.91 L474.36,755.03 L475.82,754.22 L477.29,753.47 L478.75,752.78 L480.22,752.14 L481.68,751.55 L483.15,751 L484.61,750.49 L486.08,750.01 L487.54,749.56 L489.01,749.15 L490.47,748.75 L491.94,748.38 L493.41,748.04 L494.87,747.71 L496.34,747.4 L497.8,747.1 L499.27,746.82 L500.73,746.55 L502.2,746.29 L503.66,746.05 L505.13,745.81 L506.59,745.59 L508.06,745.37 L509.52,745.15 L510.99,744.95 L512.45,744.75 L513.92,744.56 L515.39,744.37 L516.85,744.18 L518.32,744 L519.78,743.82 L521.25,743.65 L522.71,743.48 L524.18,743.31 L525.64,743.14 L527.11,742.98 L528.57,742.82 L530.04,742.66 L531.5,742.5 L532.97,742.34 L534.43,742.19 L535.9,742.04 L535.9,735.46 L535.9,757.57 L536.19,751 L538.1,751.98 L540.3,752.93 L542.49,753.85 L544.69,754.74 L546.89,755.6 L549.09,756.43 L551.29,757.24 L553.48,758.02 L555.68,758.78 L557.88,759.52 L560.08,760.22 L562.28,760.91 L564.47,761.58 L566.67,762.22 L568.87,762.84 L571.07,763.45 L573.27,764.03 L575.46,764.6 L577.66,765.14 L579.86,765.67 L582.06,766.19 L584.26,766.68 L586.45,767.16 L588.65,767.63 L590.85,768.08 L593.05,768.52 L595.25,768.94 L597.44,769.35 L599.64,769.74 L601.84,770.13 L604.04,770.5 L606.24,770.85 L608.43,771.2 L610.63,771.54 L612.83,771.86 L615.03,772.18 L617.23,772.48 L619.42,772.78 L621.62,773.07 L623.82,773.34 L626.02,773.61 L628.22,773.87 L630.41,774.12 L632.61,774.36 L634.81,774.6 L637.01,774.83 L639.21,775.05 L641.4,775.26 L643.6,775.47 L645.8,775.67" fill="none" stroke="#ee1111" stroke-width="1.45" stroke-dasharray="3.9 2.3" stroke-linejoin="round"/><path d="M426,931.92 L427.47,924.99 L428.93,918.34 L430.4,911.97 L431.86,905.87 L433.33,900.03 L434.79,894.44 L436.26,889.09 L437.72,883.98 L439.19,879.09 L440.65,874.41 L442.12,869.95 L443.58,865.68 L445.05,861.61 L446.51,857.71 L447.98,853.99 L449.45,850.44 L450.91,847.05 L452.38,843.81 L453.84,840.71 L455.31,837.76 L456.77,834.93 L458.24,832.24 L459.7,829.66 L461.17,827.2 L462.63,824.84 L464.1,822.59 L465.56,820.44 L467.03,818.39 L468.49,816.42 L469.96,814.54 L471.43,812.74 L472.89,811.02 L474.36,809.38 L475.82,807.8 L477.29,806.29 L478.75,804.84 L480.22,803.45 L481.68,802.12 L483.15,800.85 L484.61,799.62 L486.08,798.45 L487.54,797.32 L489.01,796.24 L490.47,795.2 L491.94,794.19 L493.41,793.23 L494.87,792.3 L496.34,791.41 L497.8,790.55 L499.27,789.72 L500.73,788.93 L502.2,788.16 L503.66,787.41 L505.13,786.69 L506.59,786 L508.06,785.33 L509.52,784.68 L510.99,784.05 L512.45,783.44 L513.92,782.85 L515.39,782.27 L516.85,781.72 L518.32,781.18 L519.78,780.65 L521.25,780.14 L522.71,779.64 L524.18,779.16 L525.64,778.69 L527.11,778.23 L528.57,777.78 L530.04,777.34 L531.5,776.91 L532.97,776.49 L534.43,776.08 L535.9,775.68 L535.9,767.09 L535.9,786.81 L536.19,780.97 L538.1,781.56 L540.3,782.14 L542.49,782.7 L544.69,783.25 L546.89,783.78 L549.09,784.29 L551.29,784.8 L553.48,785.28 L555.68,785.76 L557.88,786.22 L560.08,786.66 L562.28,787.1 L564.47,787.52 L566.67,787.93 L568.87,788.33 L571.07,788.71 L573.27,789.09 L575.46,789.45 L577.66,789.81 L579.86,790.15 L582.06,790.49 L584.26,790.81 L586.45,791.13 L588.65,791.44 L590.85,791.74 L593.05,792.03 L595.25,792.31 L597.44,792.58 L599.64,792.85 L601.84,793.11 L604.04,793.36 L606.24,793.6 L608.43,793.84 L610.63,794.07 L612.83,794.3 L615.03,794.51 L617.23,794.73 L619.42,794.93 L621.62,795.13 L623.82,795.33 L626.02,795.51 L628.22,795.7 L630.41,795.88 L632.61,796.05 L634.81,796.22 L637.01,796.38 L639.21,796.54 L641.4,796.69 L643.6,796.84 L645.8,796.99" fill="none" stroke="#ee1111" stroke-width="1.45" stroke-dasharray="3.9 2.3" stroke-linejoin="round"/><path d="M426,931.92 L427.47,928.97 L428.93,926.1 L430.4,923.31 L431.86,920.6 L433.33,917.98 L434.79,915.43 L436.26,912.96 L437.72,910.58 L439.19,908.27 L440.65,906.04 L442.12,903.89 L443.58,901.81 L445.05,899.8 L446.51,897.86 L447.98,895.99 L449.45,894.18 L450.91,892.44 L452.38,890.75 L453.84,889.12 L455.31,887.55 L456.77,886.03 L458.24,884.56 L459.7,883.14 L461.17,881.77 L462.63,880.44 L464.1,879.15 L465.56,877.91 L467.03,876.7 L468.49,875.53 L469.96,874.4 L471.43,873.29 L472.89,872.23 L474.36,871.19 L475.82,870.18 L477.29,869.2 L478.75,868.24 L480.22,867.31 L481.68,866.4 L483.15,865.52 L484.61,864.66 L486.08,863.81 L487.54,862.99 L489.01,862.19 L490.47,861.4 L491.94,860.63 L493.41,859.88 L494.87,859.14 L496.34,858.41 L497.8,857.7 L499.27,857.01 L500.73,856.32 L502.2,855.65 L503.66,854.98 L505.13,854.33 L506.59,853.69 L508.06,853.05 L509.52,852.43 L510.99,851.81 L512.45,851.21 L513.92,850.61 L515.39,850.01 L516.85,849.43 L518.32,848.85 L519.78,848.28 L521.25,847.71 L522.71,847.15 L524.18,846.59 L525.64,846.04 L527.11,845.49 L528.57,844.95 L530.04,844.42 L531.5,843.88 L532.97,843.35 L534.43,842.83 L535.9,842.31 L535.9,834.26 L535.9,855.16 L536.19,847.12 L538.1,847.36 L540.3,847.6 L542.49,847.83 L544.69,848.05 L546.89,848.28 L549.09,848.49 L551.29,848.7 L553.48,848.91 L555.68,849.11 L557.88,849.3 L560.08,849.5 L562.28,849.68 L564.47,849.87 L566.67,850.05 L568.87,850.22 L571.07,850.39 L573.27,850.56 L575.46,850.73 L577.66,850.89 L579.86,851.04 L582.06,851.2 L584.26,851.35 L586.45,851.49 L588.65,851.63 L590.85,851.77 L593.05,851.91 L595.25,852.04 L597.44,852.17 L599.64,852.3 L601.84,852.43 L604.04,852.55 L606.24,852.67 L608.43,852.78 L610.63,852.9 L612.83,853.01 L615.03,853.12 L617.23,853.22 L619.42,853.33 L621.62,853.43 L623.82,853.53 L626.02,853.63 L628.22,853.72 L630.41,853.81 L632.61,853.9 L634.81,853.99 L637.01,854.08 L639.21,854.16 L641.4,854.25 L643.6,854.33 L645.8,854.41" fill="none" stroke="#ee1111" stroke-width="1.45" stroke-dasharray="3.9 2.3" stroke-linejoin="round"/><path d="M426,931.92 L427.47,930.82 L428.93,929.78 L430.4,928.79 L431.86,927.86 L433.33,926.97 L434.79,926.13 L436.26,925.33 L437.72,924.56 L439.19,923.83 L440.65,923.13 L442.12,922.46 L443.58,921.82 L445.05,921.2 L446.51,920.6 L447.98,920.03 L449.45,919.47 L450.91,918.93 L452.38,918.4 L453.84,917.89 L455.31,917.4 L456.77,916.91 L458.24,916.44 L459.7,915.97 L461.17,915.51 L462.63,915.07 L464.1,914.63 L465.56,914.19 L467.03,913.76 L468.49,913.34 L469.96,912.92 L471.43,912.51 L472.89,912.1 L474.36,911.7 L475.82,911.3 L477.29,910.9 L478.75,910.5 L480.22,910.11 L481.68,909.72 L483.15,909.33 L484.61,908.94 L486.08,908.55 L487.54,908.17 L489.01,907.79 L490.47,907.41 L491.94,907.03 L493.41,906.65 L494.87,906.27 L496.34,905.89 L497.8,905.51 L499.27,905.14 L500.73,904.76 L502.2,904.39 L503.66,904.01 L505.13,903.64 L506.59,903.27 L508.06,902.89 L509.52,902.52 L510.99,902.15 L512.45,901.77 L513.92,901.4 L515.39,901.03 L516.85,900.66 L518.32,900.29 L519.78,899.91 L521.25,899.54 L522.71,899.17 L524.18,898.8 L525.64,898.43 L527.11,898.06 L528.57,897.69 L530.04,897.32 L531.5,896.95 L532.97,896.58 L534.43,896.21 L535.9,895.84 L535.9,887.79 L535.9,908.16 L536.19,900.85 L538.1,900.94 L540.3,901.04 L542.49,901.13 L544.69,901.22 L546.89,901.31 L549.09,901.4 L551.29,901.49 L553.48,901.58 L555.68,901.67 L557.88,901.76 L560.08,901.85 L562.28,901.93 L564.47,902.02 L566.67,902.1 L568.87,902.19 L571.07,902.27 L573.27,902.35 L575.46,902.43 L577.66,902.51 L579.86,902.6 L582.06,902.68 L584.26,902.75 L586.45,902.83 L588.65,902.91 L590.85,902.99 L593.05,903.07 L595.25,903.14 L597.44,903.22 L599.64,903.29 L601.84,903.37 L604.04,903.44 L606.24,903.51 L608.43,903.59 L610.63,903.66 L612.83,903.73 L615.03,903.8 L617.23,903.87 L619.42,903.94 L621.62,904.01 L623.82,904.08 L626.02,904.14 L628.22,904.21 L630.41,904.28 L632.61,904.34 L634.81,904.41 L637.01,904.47 L639.21,904.54 L641.4,904.6 L643.6,904.67 L645.8,904.73" fill="none" stroke="#ee1111" stroke-width="1.45" stroke-dasharray="3.9 2.3" stroke-linejoin="round"/><path d="M426,931.92 L427.47,932.27 L428.93,932.54 L430.4,932.75 L431.86,932.89 L433.33,932.97 L434.79,933.02 L436.26,933.02 L437.72,932.99 L439.19,932.93 L440.65,932.84 L442.12,932.73 L443.58,932.6 L445.05,932.46 L446.51,932.3 L447.98,932.14 L449.45,931.96 L450.91,931.77 L452.38,931.58 L453.84,931.38 L455.31,931.18 L456.77,930.98 L458.24,930.77 L459.7,930.56 L461.17,930.35 L462.63,930.14 L464.1,929.93 L465.56,929.72 L467.03,929.51 L468.49,929.29 L469.96,929.09 L471.43,928.88 L472.89,928.67 L474.36,928.47 L475.82,928.26 L477.29,928.06 L478.75,927.86 L480.22,927.66 L481.68,927.47 L483.15,927.27 L484.61,927.08 L486.08,926.89 L487.54,926.71 L489.01,926.52 L490.47,926.34 L491.94,926.16 L493.41,925.98 L494.87,925.8 L496.34,925.63 L497.8,925.46 L499.27,925.29 L500.73,925.12 L502.2,924.96 L503.66,924.79 L505.13,924.63 L506.59,924.47 L508.06,924.32 L509.52,924.16 L510.99,924.01 L512.45,923.86 L513.92,923.71 L515.39,923.56 L516.85,923.42 L518.32,923.27 L519.78,923.13 L521.25,922.99 L522.71,922.86 L524.18,922.72 L525.64,922.59 L527.11,922.46 L528.57,922.33 L530.04,922.2 L531.5,922.07 L532.97,921.95 L534.43,921.82 L535.9,921.7 L535.9,916.22 L535.9,929.54 L536.19,926.62 L538.1,926.7 L540.3,926.78 L542.49,926.85 L544.69,926.93 L546.89,927.01 L549.09,927.08 L551.29,927.16 L553.48,927.24 L555.68,927.31 L557.88,927.39 L560.08,927.46 L562.28,927.54 L564.47,927.61 L566.67,927.69 L568.87,927.76 L571.07,927.83 L573.27,927.9 L575.46,927.98 L577.66,928.05 L579.86,928.12 L582.06,928.19 L584.26,928.26 L586.45,928.33 L588.65,928.4 L590.85,928.47 L593.05,928.54 L595.25,928.61 L597.44,928.68 L599.64,928.75 L601.84,928.82 L604.04,928.88 L606.24,928.95 L608.43,929.02 L610.63,929.08 L612.83,929.15 L615.03,929.22 L617.23,929.28 L619.42,929.35 L621.62,929.41 L623.82,929.48 L626.02,929.54 L628.22,929.61 L630.41,929.67 L632.61,929.73 L634.81,929.8 L637.01,929.86 L639.21,929.92 L641.4,929.98 L643.6,930.04 L645.8,930.11" fill="none" stroke="#ee1111" stroke-width="1.45" stroke-dasharray="3.9 2.3" stroke-linejoin="round"/><path d="M426,931.92 L427.47,932.46 L428.93,932.91 L430.4,933.3 L431.86,933.62 L433.33,933.89 L434.79,934.11 L436.26,934.29 L437.72,934.43 L439.19,934.54 L440.65,934.63 L442.12,934.69 L443.58,934.73 L445.05,934.76 L446.51,934.77 L447.98,934.76 L449.45,934.75 L450.91,934.72 L452.38,934.69 L453.84,934.65 L455.31,934.61 L456.77,934.56 L458.24,934.51 L459.7,934.45 L461.17,934.39 L462.63,934.33 L464.1,934.26 L465.56,934.2 L467.03,934.13 L468.49,934.07 L469.96,934 L471.43,933.93 L472.89,933.87 L474.36,933.8 L475.82,933.73 L477.29,933.67 L478.75,933.6 L480.22,933.54 L481.68,933.47 L483.15,933.41 L484.61,933.35 L486.08,933.29 L487.54,933.23 L489.01,933.17 L490.47,933.11 L491.94,933.05 L493.41,932.99 L494.87,932.94 L496.34,932.88 L497.8,932.83 L499.27,932.77 L500.73,932.72 L502.2,932.67 L503.66,932.62 L505.13,932.57 L506.59,932.52 L508.06,932.47 L509.52,932.43 L510.99,932.38 L512.45,932.33 L513.92,932.29 L515.39,932.25 L516.85,932.2 L518.32,932.16 L519.78,932.12 L521.25,932.08 L522.71,932.04 L524.18,932 L525.64,931.97 L527.11,931.93 L528.57,931.89 L530.04,931.86 L531.5,931.82 L532.97,931.79 L534.43,931.75 L535.9,931.72 L535.9,929.53 L535.9,935.94 L536.19,934.84 L538.1,934.88 L540.3,934.93 L542.49,934.97 L544.69,935.01 L546.89,935.05 L549.09,935.08 L551.29,935.12 L553.48,935.15 L555.68,935.19 L557.88,935.22 L560.08,935.25 L562.28,935.28 L564.47,935.31 L566.67,935.34 L568.87,935.37 L571.07,935.4 L573.27,935.43 L575.46,935.45 L577.66,935.48 L579.86,935.5 L582.06,935.52 L584.26,935.55 L586.45,935.57 L588.65,935.59 L590.85,935.61 L593.05,935.63 L595.25,935.65 L597.44,935.67 L599.64,935.69 L601.84,935.71 L604.04,935.73 L606.24,935.74 L608.43,935.76 L610.63,935.78 L612.83,935.79 L615.03,935.81 L617.23,935.82 L619.42,935.84 L621.62,935.85 L623.82,935.86 L626.02,935.88 L628.22,935.89 L630.41,935.9 L632.61,935.91 L634.81,935.92 L637.01,935.94 L639.21,935.95 L641.4,935.96 L643.6,935.97 L645.8,935.98" fill="none" stroke="#ee1111" stroke-width="1.45" stroke-dasharray="3.9 2.3" stroke-linejoin="round"/><path d="M426,931.92 L427.47,932.26 L428.93,932.58 L430.4,932.89 L431.86,933.17 L433.33,933.43 L434.79,933.68 L436.26,933.91 L437.72,934.12 L439.19,934.32 L440.65,934.51 L442.12,934.68 L443.58,934.85 L445.05,935 L446.51,935.14 L447.98,935.27 L449.45,935.4 L450.91,935.51 L452.38,935.62 L453.84,935.72 L455.31,935.82 L456.77,935.9 L458.24,935.99 L459.7,936.06 L461.17,936.13 L462.63,936.2 L464.1,936.26 L465.56,936.32 L467.03,936.37 L468.49,936.42 L469.96,936.47 L471.43,936.51 L472.89,936.55 L474.36,936.59 L475.82,936.63 L477.29,936.66 L478.75,936.69 L480.22,936.72 L481.68,936.75 L483.15,936.77 L484.61,936.79 L486.08,936.81 L487.54,936.83 L489.01,936.85 L490.47,936.87 L491.94,936.89 L493.41,936.9 L494.87,936.91 L496.34,936.93 L497.8,936.94 L499.27,936.95 L500.73,936.96 L502.2,936.97 L503.66,936.98 L505.13,936.98 L506.59,936.99 L508.06,937 L509.52,937 L510.99,937.01 L512.45,937.02 L513.92,937.02 L515.39,937.03 L516.85,937.03 L518.32,937.03 L519.78,937.04 L521.25,937.04 L522.71,937.04 L524.18,937.04 L525.64,937.05 L527.11,937.05 L528.57,937.05 L530.04,937.05 L531.5,937.05 L532.97,937.06 L534.43,937.06 L535.9,937.06 L535.9,936.33 L535.9,937.03 L536.19,936.67 L538.1,936.68 L540.3,936.69 L542.49,936.7 L544.69,936.71 L546.89,936.72 L549.09,936.73 L551.29,936.74 L553.48,936.75 L555.68,936.76 L557.88,936.76 L560.08,936.77 L562.28,936.78 L564.47,936.79 L566.67,936.79 L568.87,936.8 L571.07,936.81 L573.27,936.82 L575.46,936.82 L577.66,936.83 L579.86,936.83 L582.06,936.84 L584.26,936.85 L586.45,936.85 L588.65,936.86 L590.85,936.86 L593.05,936.87 L595.25,936.87 L597.44,936.88 L599.64,936.88 L601.84,936.89 L604.04,936.89 L606.24,936.89 L608.43,936.9 L610.63,936.9 L612.83,936.91 L615.03,936.91 L617.23,936.91 L619.42,936.92 L621.62,936.92 L623.82,936.92 L626.02,936.93 L628.22,936.93 L630.41,936.93 L632.61,936.94 L634.81,936.94 L637.01,936.94 L639.21,936.95 L641.4,936.95 L643.6,936.95 L645.8,936.95" fill="none" stroke="#ee1111" stroke-width="1.45" stroke-dasharray="3.9 2.3" stroke-linejoin="round"/><path d="M111.1,406.9 L111.1,636.7" stroke="#000" stroke-width="2.2" fill="none"/><path d="M102.1,627.3 L332,627.3" stroke="#000" stroke-width="2.2" fill="none"/><line x1="102.1" y1="627.3" x2="111.1" y2="627.3" stroke="#000" stroke-width="2.2"/><text x="99.3" y="636.8" text-anchor="end" font-size="24.6" font-weight="bold">0</text><line x1="102.1" y1="554.2" x2="111.1" y2="554.2" stroke="#000" stroke-width="2.2"/><text x="99.3" y="563.7" text-anchor="end" font-size="24.6" font-weight="bold">20</text><line x1="102.1" y1="481.1" x2="111.1" y2="481.1" stroke="#000" stroke-width="2.2"/><text x="99.3" y="490.6" text-anchor="end" font-size="24.6" font-weight="bold">40</text><line x1="102.1" y1="408" x2="111.1" y2="408" stroke="#000" stroke-width="2.2"/><text x="99.3" y="417.5" text-anchor="end" font-size="24.6" font-weight="bold">60</text><line x1="111.1" y1="627.3" x2="111.1" y2="636.7" stroke="#000" stroke-width="2.2"/><text x="111.1" y="662.4" text-anchor="middle" font-size="24.6" font-weight="bold">0</text><line x1="184.37" y1="627.3" x2="184.37" y2="636.7" stroke="#000" stroke-width="2.2"/><text x="184.37" y="662.4" text-anchor="middle" font-size="24.6" font-weight="bold">200</text><line x1="257.63" y1="627.3" x2="257.63" y2="636.7" stroke="#000" stroke-width="2.2"/><text x="257.63" y="662.4" text-anchor="middle" font-size="24.6" font-weight="bold">400</text><line x1="330.9" y1="627.3" x2="330.9" y2="636.7" stroke="#000" stroke-width="2.2"/><text x="330.9" y="662.4" text-anchor="middle" font-size="24.6" font-weight="bold">600</text><path d="M426,406.9 L426,636.7" stroke="#000" stroke-width="2.2" fill="none"/><path d="M417,627.3 L646.9,627.3" stroke="#000" stroke-width="2.2" fill="none"/><line x1="417" y1="627.3" x2="426" y2="627.3" stroke="#000" stroke-width="2.2"/><text x="414.2" y="636.8" text-anchor="end" font-size="24.6" font-weight="bold">0</text><line x1="417" y1="554.2" x2="426" y2="554.2" stroke="#000" stroke-width="2.2"/><text x="414.2" y="563.7" text-anchor="end" font-size="24.6" font-weight="bold">20</text><line x1="417" y1="481.1" x2="426" y2="481.1" stroke="#000" stroke-width="2.2"/><text x="414.2" y="490.6" text-anchor="end" font-size="24.6" font-weight="bold">40</text><line x1="417" y1="408" x2="426" y2="408" stroke="#000" stroke-width="2.2"/><text x="414.2" y="417.5" text-anchor="end" font-size="24.6" font-weight="bold">60</text><line x1="426" y1="627.3" x2="426" y2="636.7" stroke="#000" stroke-width="2.2"/><text x="426" y="662.4" text-anchor="middle" font-size="24.6" font-weight="bold">0</text><line x1="499.27" y1="627.3" x2="499.27" y2="636.7" stroke="#000" stroke-width="2.2"/><text x="499.27" y="662.4" text-anchor="middle" font-size="24.6" font-weight="bold">200</text><line x1="572.53" y1="627.3" x2="572.53" y2="636.7" stroke="#000" stroke-width="2.2"/><text x="572.53" y="662.4" text-anchor="middle" font-size="24.6" font-weight="bold">400</text><line x1="645.8" y1="627.3" x2="645.8" y2="636.7" stroke="#000" stroke-width="2.2"/><text x="645.8" y="662.4" text-anchor="middle" font-size="24.6" font-weight="bold">600</text><path d="M111.1,717 L111.1,946.8" stroke="#000" stroke-width="2.2" fill="none"/><path d="M102.1,937.4 L332,937.4" stroke="#000" stroke-width="2.2" fill="none"/><line x1="102.1" y1="937.4" x2="111.1" y2="937.4" stroke="#000" stroke-width="2.2"/><text x="99.3" y="946.9" text-anchor="end" font-size="24.6" font-weight="bold">0</text><line x1="102.1" y1="864.3" x2="111.1" y2="864.3" stroke="#000" stroke-width="2.2"/><text x="99.3" y="873.8" text-anchor="end" font-size="24.6" font-weight="bold">20</text><line x1="102.1" y1="791.2" x2="111.1" y2="791.2" stroke="#000" stroke-width="2.2"/><text x="99.3" y="800.7" text-anchor="end" font-size="24.6" font-weight="bold">40</text><line x1="102.1" y1="718.1" x2="111.1" y2="718.1" stroke="#000" stroke-width="2.2"/><text x="99.3" y="727.6" text-anchor="end" font-size="24.6" font-weight="bold">60</text><line x1="111.1" y1="937.4" x2="111.1" y2="946.8" stroke="#000" stroke-width="2.2"/><text x="111.1" y="972.5" text-anchor="middle" font-size="24.6" font-weight="bold">0</text><line x1="184.37" y1="937.4" x2="184.37" y2="946.8" stroke="#000" stroke-width="2.2"/><text x="184.37" y="972.5" text-anchor="middle" font-size="24.6" font-weight="bold">200</text><line x1="257.63" y1="937.4" x2="257.63" y2="946.8" stroke="#000" stroke-width="2.2"/><text x="257.63" y="972.5" text-anchor="middle" font-size="24.6" font-weight="bold">400</text><line x1="330.9" y1="937.4" x2="330.9" y2="946.8" stroke="#000" stroke-width="2.2"/><text x="330.9" y="972.5" text-anchor="middle" font-size="24.6" font-weight="bold">600</text><path d="M426,717 L426,946.8" stroke="#000" stroke-width="2.2" fill="none"/><path d="M417,937.4 L646.9,937.4" stroke="#000" stroke-width="2.2" fill="none"/><line x1="417" y1="937.4" x2="426" y2="937.4" stroke="#000" stroke-width="2.2"/><text x="414.2" y="946.9" text-anchor="end" font-size="24.6" font-weight="bold">0</text><line x1="417" y1="864.3" x2="426" y2="864.3" stroke="#000" stroke-width="2.2"/><text x="414.2" y="873.8" text-anchor="end" font-size="24.6" font-weight="bold">20</text><line x1="417" y1="791.2" x2="426" y2="791.2" stroke="#000" stroke-width="2.2"/><text x="414.2" y="800.7" text-anchor="end" font-size="24.6" font-weight="bold">40</text><line x1="417" y1="718.1" x2="426" y2="718.1" stroke="#000" stroke-width="2.2"/><text x="414.2" y="727.6" text-anchor="end" font-size="24.6" font-weight="bold">60</text><line x1="426" y1="937.4" x2="426" y2="946.8" stroke="#000" stroke-width="2.2"/><text x="426" y="972.5" text-anchor="middle" font-size="24.6" font-weight="bold">0</text><line x1="499.27" y1="937.4" x2="499.27" y2="946.8" stroke="#000" stroke-width="2.2"/><text x="499.27" y="972.5" text-anchor="middle" font-size="24.6" font-weight="bold">200</text><line x1="572.53" y1="937.4" x2="572.53" y2="946.8" stroke="#000" stroke-width="2.2"/><text x="572.53" y="972.5" text-anchor="middle" font-size="24.6" font-weight="bold">400</text><line x1="645.8" y1="937.4" x2="645.8" y2="946.8" stroke="#000" stroke-width="2.2"/><text x="645.8" y="972.5" text-anchor="middle" font-size="24.6" font-weight="bold">600</text><line x1="111.4" y1="627.3" x2="111.4" y2="614.14" stroke="#1010ee" stroke-width="1.8"/><line x1="426.3" y1="627.3" x2="426.3" y2="614.14" stroke="#1010ee" stroke-width="1.8"/><line x1="111.4" y1="937.4" x2="111.4" y2="924.24" stroke="#ee1111" stroke-width="1.8"/><line x1="426.3" y1="937.4" x2="426.3" y2="924.24" stroke="#ee1111" stroke-width="1.8"/><line x1="19.6" y1="775" x2="19.6" y2="663" stroke="#000" stroke-width="2.8"/><path d="M13.6,664.2 L25.6,664.2 L19.6,652.7 Z" fill="#000"/><text transform="translate(30.4,986) rotate(-90)" font-size="26.4" font-weight="bold">Response Units</text><text x="52.6" y="1030" font-size="25.1" font-weight="bold">Time (s)</text><line x1="159.2" y1="1020.5" x2="372" y2="1020.5" stroke="#000" stroke-width="2.9"/><path d="M371.1,1014.6 L371.1,1027 L382.9,1020.5 Z" fill="#000"/><text x="5.5" y="1083" font-size="30">D</text><line x1="163.4" y1="1281" x2="163.4" y2="1346.8" stroke="#ff0000" stroke-width="1.8"/><line x1="158.6" y1="1281" x2="168.2" y2="1281" stroke="#ff0000" stroke-width="1.8"/><line x1="158.6" y1="1346.8" x2="168.2" y2="1346.8" stroke="#ff0000" stroke-width="1.8"/><line x1="196.7" y1="1173.6" x2="196.7" y2="1276.3" stroke="#ff0000" stroke-width="1.8"/><line x1="191.9" y1="1173.6" x2="201.5" y2="1173.6" stroke="#ff0000" stroke-width="1.8"/><line x1="191.9" y1="1276.3" x2="201.5" y2="1276.3" stroke="#ff0000" stroke-width="1.8"/><line x1="230" y1="1141.4" x2="230" y2="1240.1" stroke="#ff0000" stroke-width="1.8"/><line x1="225.2" y1="1141.4" x2="234.8" y2="1141.4" stroke="#ff0000" stroke-width="1.8"/><line x1="225.2" y1="1240.1" x2="234.8" y2="1240.1" stroke="#ff0000" stroke-width="1.8"/><line x1="263.3" y1="1127.6" x2="263.3" y2="1283" stroke="#ff0000" stroke-width="1.8"/><line x1="258.5" y1="1127.6" x2="268.1" y2="1127.6" stroke="#ff0000" stroke-width="1.8"/><line x1="258.5" y1="1283" x2="268.1" y2="1283" stroke="#ff0000" stroke-width="1.8"/><line x1="296.6" y1="1119" x2="296.6" y2="1258.5" stroke="#ff0000" stroke-width="1.8"/><line x1="291.8" y1="1119" x2="301.4" y2="1119" stroke="#ff0000" stroke-width="1.8"/><line x1="291.8" y1="1258.5" x2="301.4" y2="1258.5" stroke="#ff0000" stroke-width="1.8"/><line x1="230" y1="1281.5" x2="230" y2="1310" stroke="#ff0000" stroke-width="1.8"/><line x1="225.2" y1="1281.5" x2="234.8" y2="1281.5" stroke="#ff0000" stroke-width="1.8"/><line x1="225.2" y1="1310" x2="234.8" y2="1310" stroke="#ff0000" stroke-width="1.8"/><line x1="196.7" y1="1337.6" x2="196.7" y2="1348" stroke="#ff0000" stroke-width="1.8"/><line x1="191.9" y1="1337.6" x2="201.5" y2="1337.6" stroke="#ff0000" stroke-width="1.8"/><line x1="191.9" y1="1348" x2="201.5" y2="1348" stroke="#ff0000" stroke-width="1.8"/><line x1="163.4" y1="1280.3" x2="163.4" y2="1331.3" stroke="#0000ff" stroke-width="1.8"/><line x1="158.6" y1="1280.3" x2="168.2" y2="1280.3" stroke="#0000ff" stroke-width="1.8"/><line x1="158.6" y1="1331.3" x2="168.2" y2="1331.3" stroke="#0000ff" stroke-width="1.8"/><line x1="196.7" y1="1169" x2="196.7" y2="1268" stroke="#0000ff" stroke-width="1.8"/><line x1="191.9" y1="1169" x2="201.5" y2="1169" stroke="#0000ff" stroke-width="1.8"/><line x1="191.9" y1="1268" x2="201.5" y2="1268" stroke="#0000ff" stroke-width="1.8"/><line x1="230" y1="1160.4" x2="230" y2="1222.6" stroke="#0000ff" stroke-width="1.8"/><line x1="225.2" y1="1160.4" x2="234.8" y2="1160.4" stroke="#0000ff" stroke-width="1.8"/><line x1="225.2" y1="1222.6" x2="234.8" y2="1222.6" stroke="#0000ff" stroke-width="1.8"/><line x1="263.3" y1="1152.1" x2="263.3" y2="1209.4" stroke="#0000ff" stroke-width="1.8"/><line x1="258.5" y1="1152.1" x2="268.1" y2="1152.1" stroke="#0000ff" stroke-width="1.8"/><line x1="258.5" y1="1209.4" x2="268.1" y2="1209.4" stroke="#0000ff" stroke-width="1.8"/><line x1="296.6" y1="1133.7" x2="296.6" y2="1216.5" stroke="#0000ff" stroke-width="1.8"/><line x1="291.8" y1="1133.7" x2="301.4" y2="1133.7" stroke="#0000ff" stroke-width="1.8"/><line x1="291.8" y1="1216.5" x2="301.4" y2="1216.5" stroke="#0000ff" stroke-width="1.8"/><line x1="230" y1="1288.5" x2="230" y2="1334.5" stroke="#0000ff" stroke-width="1.8"/><line x1="225.2" y1="1288.5" x2="234.8" y2="1288.5" stroke="#0000ff" stroke-width="1.8"/><line x1="225.2" y1="1334.5" x2="234.8" y2="1334.5" stroke="#0000ff" stroke-width="1.8"/><line x1="263.3" y1="1209.7" x2="263.3" y2="1260" stroke="#0000ff" stroke-width="1.8"/><line x1="258.5" y1="1209.7" x2="268.1" y2="1209.7" stroke="#0000ff" stroke-width="1.8"/><line x1="258.5" y1="1260" x2="268.1" y2="1260" stroke="#0000ff" stroke-width="1.8"/><line x1="296.6" y1="1137" x2="296.6" y2="1216" stroke="#0000ff" stroke-width="1.8"/><line x1="291.8" y1="1137" x2="301.4" y2="1137" stroke="#0000ff" stroke-width="1.8"/><line x1="291.8" y1="1216" x2="301.4" y2="1216" stroke="#0000ff" stroke-width="1.8"/><path d="M130.1,1359.5 L131.49,1359.48 L132.88,1359.46 L134.26,1359.44 L135.65,1359.41 L137.04,1359.38 L138.42,1359.36 L139.81,1359.32 L141.2,1359.29 L142.59,1359.25 L143.97,1359.21 L145.36,1359.17 L146.75,1359.13 L148.14,1359.08 L149.53,1359.02 L150.91,1358.96 L152.3,1358.9 L153.69,1358.83 L155.07,1358.76 L156.46,1358.68 L157.85,1358.59 L159.24,1358.5 L160.62,1358.4 L162.01,1358.29 L163.4,1358.17 L164.79,1358.05 L166.17,1357.91 L167.56,1357.76 L168.95,1357.6 L170.34,1357.43 L171.72,1357.24 L173.11,1357.04 L174.5,1356.83 L175.89,1356.59 L177.27,1356.34 L178.66,1356.07 L180.05,1355.78 L181.44,1355.46 L182.82,1355.12 L184.21,1354.75 L185.6,1354.36 L186.99,1353.93 L188.38,1353.48 L189.76,1352.98 L191.15,1352.45 L192.54,1351.89 L193.92,1351.28 L195.31,1350.62 L196.7,1349.92 L198.09,1349.16 L199.47,1348.36 L200.86,1347.49 L202.25,1346.57 L203.64,1345.58 L205.02,1344.52 L206.41,1343.4 L207.8,1342.2 L209.19,1340.92 L210.57,1339.56 L211.96,1338.12 L213.35,1336.59 L214.74,1334.97 L216.12,1333.25 L217.51,1331.44 L218.9,1329.53 L220.29,1327.52 L221.67,1325.41 L223.06,1323.2 L224.45,1320.89 L225.84,1318.47 L227.22,1315.95 L228.61,1313.34 L230,1310.62 L231.39,1307.82 L232.77,1304.92 L234.16,1301.94 L235.55,1298.88 L236.94,1295.75 L238.32,1292.55 L239.71,1289.3 L241.1,1286 L242.49,1282.67 L243.88,1279.3 L245.26,1275.92 L246.65,1272.53 L248.04,1269.14 L249.42,1265.77 L250.81,1262.42 L252.2,1259.1 L253.59,1255.82 L254.97,1252.6 L256.36,1249.44 L257.75,1246.34 L259.14,1243.33 L260.52,1240.39 L261.91,1237.54 L263.3,1234.78 L264.69,1232.12 L266.07,1229.55 L267.46,1227.09 L268.85,1224.72 L270.24,1222.46 L271.62,1220.31 L273.01,1218.25 L274.4,1216.29 L275.79,1214.44 L277.17,1212.68 L278.56,1211.01 L279.95,1209.44 L281.34,1207.96 L282.72,1206.56 L284.11,1205.24 L285.5,1204.01 L286.89,1202.85 L288.27,1201.76 L289.66,1200.74 L291.05,1199.78 L292.44,1198.89 L293.82,1198.06 L295.21,1197.28 L296.6,1196.55" fill="none" stroke="#0000ff" stroke-width="2"/><path d="M130.1,1360.02 L131.49,1359.95 L132.88,1359.88 L134.26,1359.8 L135.65,1359.72 L137.04,1359.63 L138.42,1359.54 L139.81,1359.44 L141.2,1359.34 L142.59,1359.23 L143.97,1359.11 L145.36,1358.98 L146.75,1358.85 L148.14,1358.71 L149.53,1358.56 L150.91,1358.4 L152.3,1358.23 L153.69,1358.05 L155.07,1357.86 L156.46,1357.66 L157.85,1357.44 L159.24,1357.22 L160.62,1356.97 L162.01,1356.72 L163.4,1356.44 L164.79,1356.15 L166.17,1355.85 L167.56,1355.52 L168.95,1355.18 L170.34,1354.81 L171.72,1354.43 L173.11,1354.02 L174.5,1353.58 L175.89,1353.12 L177.27,1352.63 L178.66,1352.12 L180.05,1351.58 L181.44,1351 L182.82,1350.39 L184.21,1349.75 L185.6,1349.07 L186.99,1348.36 L188.38,1347.6 L189.76,1346.81 L191.15,1345.97 L192.54,1345.09 L193.92,1344.16 L195.31,1343.18 L196.7,1342.15 L198.09,1341.08 L199.47,1339.94 L200.86,1338.76 L202.25,1337.52 L203.64,1336.21 L205.02,1334.85 L206.41,1333.43 L207.8,1331.95 L209.19,1330.4 L210.57,1328.79 L211.96,1327.11 L213.35,1325.37 L214.74,1323.56 L216.12,1321.68 L217.51,1319.74 L218.9,1317.73 L220.29,1315.66 L221.67,1313.52 L223.06,1311.32 L224.45,1309.06 L225.84,1306.74 L227.22,1304.36 L228.61,1301.93 L230,1299.44 L231.39,1296.91 L232.77,1294.33 L234.16,1291.71 L235.55,1289.06 L236.94,1286.37 L238.32,1283.66 L239.71,1280.92 L241.1,1278.17 L242.49,1275.4 L243.88,1272.63 L245.26,1269.85 L246.65,1267.08 L248.04,1264.32 L249.42,1261.57 L250.81,1258.84 L252.2,1256.14 L253.59,1253.47 L254.97,1250.82 L256.36,1248.22 L257.75,1245.66 L259.14,1243.15 L260.52,1240.69 L261.91,1238.27 L263.3,1235.92 L264.69,1233.62 L266.07,1231.38 L267.46,1229.21 L268.85,1227.1 L270.24,1225.05 L271.62,1223.07 L273.01,1221.16 L274.4,1219.31 L275.79,1217.52 L277.17,1215.81 L278.56,1214.16 L279.95,1212.57 L281.34,1211.05 L282.72,1209.59 L284.11,1208.19 L285.5,1206.86 L286.89,1205.58 L288.27,1204.36 L289.66,1203.2 L291.05,1202.09 L292.44,1201.03 L293.82,1200.03 L295.21,1199.07 L296.6,1198.16" fill="none" stroke="#ff0000" stroke-width="2"/><path d="M130.1,1347.74 L131.49,1346.95 L132.88,1346.1 L134.26,1345.18 L135.65,1344.19 L137.04,1343.13 L138.42,1341.98 L139.81,1340.75 L141.2,1339.43 L142.59,1338.01 L143.97,1336.5 L145.36,1334.87 L146.75,1333.14 L148.14,1331.3 L149.53,1329.33 L150.91,1327.25 L152.3,1325.04 L153.69,1322.7 L155.07,1320.23 L156.46,1317.64 L157.85,1314.91 L159.24,1312.06 L160.62,1309.07 L162.01,1305.97 L163.4,1302.74 L164.79,1299.4 L166.17,1295.95 L167.56,1292.41 L168.95,1288.77 L170.34,1285.06 L171.72,1281.28 L173.11,1277.45 L174.5,1273.57 L175.89,1269.67 L177.27,1265.76 L178.66,1261.85 L180.05,1257.95 L181.44,1254.09 L182.82,1250.27 L184.21,1246.51 L185.6,1242.82 L186.99,1239.22 L188.38,1235.7 L189.76,1232.29 L191.15,1228.98 L192.54,1225.8 L193.92,1222.73 L195.31,1219.79 L196.7,1216.97 L198.09,1214.29 L199.47,1211.73 L200.86,1209.31 L202.25,1207.01 L203.64,1204.84 L205.02,1202.8 L206.41,1200.87 L207.8,1199.06 L209.19,1197.37 L210.57,1195.78 L211.96,1194.29 L213.35,1192.91 L214.74,1191.61 L216.12,1190.41 L217.51,1189.29 L218.9,1188.25 L220.29,1187.29 L221.67,1186.39 L223.06,1185.56 L224.45,1184.79 L225.84,1184.08 L227.22,1183.43 L228.61,1182.82 L230,1182.26 L231.39,1181.75 L232.77,1181.27 L234.16,1180.83 L235.55,1180.42 L236.94,1180.05 L238.32,1179.71 L239.71,1179.39 L241.1,1179.1 L242.49,1178.83 L243.88,1178.59 L245.26,1178.36 L246.65,1178.15 L248.04,1177.96 L249.42,1177.78 L250.81,1177.62 L252.2,1177.47 L253.59,1177.34 L254.97,1177.21 L256.36,1177.1 L257.75,1176.99 L259.14,1176.89 L260.52,1176.8 L261.91,1176.72 L263.3,1176.65 L264.69,1176.58 L266.07,1176.51 L267.46,1176.46 L268.85,1176.4 L270.24,1176.35 L271.62,1176.31 L273.01,1176.27 L274.4,1176.23 L275.79,1176.19 L277.17,1176.16 L278.56,1176.13 L279.95,1176.11 L281.34,1176.08 L282.72,1176.06 L284.11,1176.04 L285.5,1176.02 L286.89,1176 L288.27,1175.99 L289.66,1175.97 L291.05,1175.96 L292.44,1175.95 L293.82,1175.94 L295.21,1175.92 L296.6,1175.92" fill="none" stroke="#0000ff" stroke-width="2" stroke-dasharray="3 3"/><path d="M130.1,1353.5 L131.49,1352.97 L132.88,1352.39 L134.26,1351.76 L135.65,1351.07 L137.04,1350.32 L138.42,1349.5 L139.81,1348.61 L141.2,1347.65 L142.59,1346.6 L143.97,1345.47 L145.36,1344.24 L146.75,1342.91 L148.14,1341.47 L149.53,1339.93 L150.91,1338.26 L152.3,1336.47 L153.69,1334.55 L155.07,1332.5 L156.46,1330.3 L157.85,1327.96 L159.24,1325.47 L160.62,1322.83 L162.01,1320.03 L163.4,1317.09 L164.79,1313.99 L166.17,1310.74 L167.56,1307.34 L168.95,1303.81 L170.34,1300.14 L171.72,1296.35 L173.11,1292.45 L174.5,1288.45 L175.89,1284.36 L177.27,1280.2 L178.66,1275.99 L180.05,1271.75 L181.44,1267.49 L182.82,1263.23 L184.21,1258.99 L185.6,1254.78 L186.99,1250.64 L188.38,1246.57 L189.76,1242.58 L191.15,1238.7 L192.54,1234.93 L193.92,1231.28 L195.31,1227.77 L196.7,1224.4 L198.09,1221.18 L199.47,1218.11 L200.86,1215.19 L202.25,1212.42 L203.64,1209.8 L205.02,1207.34 L206.41,1205.03 L207.8,1202.85 L209.19,1200.82 L210.57,1198.93 L211.96,1197.16 L213.35,1195.51 L214.74,1193.99 L216.12,1192.57 L217.51,1191.26 L218.9,1190.05 L220.29,1188.93 L221.67,1187.9 L223.06,1186.95 L224.45,1186.07 L225.84,1185.27 L227.22,1184.53 L228.61,1183.85 L230,1183.23 L231.39,1182.65 L232.77,1182.13 L234.16,1181.65 L235.55,1181.21 L236.94,1180.81 L238.32,1180.44 L239.71,1180.11 L241.1,1179.8 L242.49,1179.52 L243.88,1179.26 L245.26,1179.03 L246.65,1178.81 L248.04,1178.62 L249.42,1178.44 L250.81,1178.28 L252.2,1178.13 L253.59,1177.99 L254.97,1177.87 L256.36,1177.76 L257.75,1177.65 L259.14,1177.56 L260.52,1177.47 L261.91,1177.4 L263.3,1177.33 L264.69,1177.26 L266.07,1177.2 L267.46,1177.15 L268.85,1177.1 L270.24,1177.06 L271.62,1177.01 L273.01,1176.98 L274.4,1176.94 L275.79,1176.91 L277.17,1176.89 L278.56,1176.86 L279.95,1176.84 L281.34,1176.82 L282.72,1176.8 L284.11,1176.78 L285.5,1176.76 L286.89,1176.75 L288.27,1176.73 L289.66,1176.72 L291.05,1176.71 L292.44,1176.7 L293.82,1176.69 L295.21,1176.68 L296.6,1176.68" fill="none" stroke="#ff0000" stroke-width="2" stroke-dasharray="3 3"/><path d="M130.1,1359.7 L296.6,1356.2" stroke="#000" stroke-width="1.2" fill="none"/><path d="M130.1,1359.7 L296.6,1358.2" stroke="#000" stroke-width="1.2" fill="none"/><circle cx="130.1" cy="1353" r="4.6" fill="none" stroke="#ff0000" stroke-width="1.8"/><circle cx="163.4" cy="1323.8" r="4.6" fill="none" stroke="#ff0000" stroke-width="1.8"/><circle cx="196.7" cy="1225" r="4.6" fill="none" stroke="#ff0000" stroke-width="1.8"/><circle cx="230" cy="1191.4" r="4.6" fill="none" stroke="#ff0000" stroke-width="1.8"/><circle cx="263.3" cy="1181.2" r="4.6" fill="none" stroke="#ff0000" stroke-width="1.8"/><circle cx="296.6" cy="1167.4" r="4.6" fill="none" stroke="#ff0000" stroke-width="1.8"/><circle cx="163.4" cy="1357.5" r="5" fill="#ff0000"/><circle cx="196.7" cy="1342.2" r="5" fill="#ff0000"/><circle cx="230" cy="1297.7" r="5" fill="#ff0000"/><circle cx="263.3" cy="1238.6" r="5" fill="#ff0000"/><circle cx="296.6" cy="1197.5" r="5" fill="#ff0000"/><rect x="125.1" y="1354.5" width="10" height="10" fill="#0000ff"/><rect x="158.4" y="1351.9" width="10" height="10" fill="#0000ff"/><rect x="191.7" y="1344" width="10" height="10" fill="#0000ff"/><rect x="225" y="1306.5" width="10" height="10" fill="#0000ff"/><rect x="258.3" y="1229.9" width="10" height="10" fill="#0000ff"/><rect x="291.6" y="1191.6" width="10" height="10" fill="#0000ff"/><rect x="126.3" y="1349.1" width="7.6" height="7.6" fill="none" stroke="#0000ff" stroke-width="2.9"/><rect x="159.6" y="1301.6" width="7.6" height="7.6" fill="none" stroke="#0000ff" stroke-width="2.9"/><rect x="192.9" y="1214.2" width="7.6" height="7.6" fill="none" stroke="#0000ff" stroke-width="2.9"/><rect x="226.2" y="1187.6" width="7.6" height="7.6" fill="none" stroke="#0000ff" stroke-width="2.9"/><rect x="259.5" y="1177.4" width="7.6" height="7.6" fill="none" stroke="#0000ff" stroke-width="2.9"/><rect x="292.8" y="1161.5" width="7.6" height="7.6" fill="none" stroke="#0000ff" stroke-width="2.9"/><path d="M119.8,1092.1 L119.8,1361.3" stroke="#000" stroke-width="2.2" fill="none"/><path d="M110.6,1360.2 L308.1,1360.2" stroke="#000" stroke-width="2.8" fill="none"/><path d="M125.5,1363.8 L134.7,1363.8 L130.1,1354.6 Z" fill="#000"/><path d="M158.8,1363.8 L168,1363.8 L163.4,1354.6 Z" fill="#000"/><path d="M192.1,1363.8 L201.3,1363.8 L196.7,1354.6 Z" fill="#000"/><path d="M225.4,1363.21 L234.6,1363.21 L230,1354.01 Z" fill="#000"/><path d="M258.7,1362.22 L267.9,1362.22 L263.3,1353.02 Z" fill="#000"/><path d="M292,1359.84 L301.2,1359.84 L296.6,1350.64 Z" fill="#000"/><line x1="110.6" y1="1360.2" x2="119.8" y2="1360.2" stroke="#000" stroke-width="2.2"/><text x="108" y="1371" text-anchor="end" font-size="24.8" font-weight="bold">0</text><line x1="110.6" y1="1271.2" x2="119.8" y2="1271.2" stroke="#000" stroke-width="2.2"/><text x="108" y="1282" text-anchor="end" font-size="24.8" font-weight="bold">4500</text><line x1="110.6" y1="1182.2" x2="119.8" y2="1182.2" stroke="#000" stroke-width="2.2"/><text x="108" y="1193" text-anchor="end" font-size="24.8" font-weight="bold">9000</text><line x1="110.6" y1="1093.2" x2="119.8" y2="1093.2" stroke="#000" stroke-width="2.2"/><text x="108" y="1104" text-anchor="end" font-size="24.8" font-weight="bold">13500</text><line x1="130.1" y1="1360.2" x2="130.1" y2="1370" stroke="#000" stroke-width="2.2"/><text transform="translate(138.6,1392.2) rotate(-45)" text-anchor="end" font-size="25" font-weight="bold">-3</text><line x1="163.4" y1="1360.2" x2="163.4" y2="1370" stroke="#000" stroke-width="2.2"/><text transform="translate(171.9,1392.2) rotate(-45)" text-anchor="end" font-size="25" font-weight="bold">-2</text><line x1="196.7" y1="1360.2" x2="196.7" y2="1370" stroke="#000" stroke-width="2.2"/><text transform="translate(205.2,1392.2) rotate(-45)" text-anchor="end" font-size="25" font-weight="bold">-1</text><line x1="230" y1="1360.2" x2="230" y2="1370" stroke="#000" stroke-width="2.2"/><text transform="translate(238.5,1392.2) rotate(-45)" text-anchor="end" font-size="25" font-weight="bold">0</text><line x1="263.3" y1="1360.2" x2="263.3" y2="1370" stroke="#000" stroke-width="2.2"/><text transform="translate(271.8,1392.2) rotate(-45)" text-anchor="end" font-size="25" font-weight="bold">1</text><line x1="296.6" y1="1360.2" x2="296.6" y2="1370" stroke="#000" stroke-width="2.2"/><text transform="translate(305.1,1392.2) rotate(-45)" text-anchor="end" font-size="25" font-weight="bold">2</text><text x="213.2" y="1439.1" text-anchor="middle" font-size="24.8" font-weight="bold">Concentration</text><text x="213.6" y="1468.3" text-anchor="middle" font-size="25" font-weight="bold">(Log[nM])</text><text transform="translate(28.2,1291.5) rotate(-90)" font-size="25.5" font-weight="bold">mCD27 MFI</text><line x1="331" y1="1152.8" x2="355" y2="1152.8" stroke="#000" stroke-width="1.8"/><path d="M339,1156.8 L347.6,1156.8 L343.3,1148.8 Z" fill="#000"/><text x="368.2" y="1161.5" font-size="24.7">Isotype mIgG1</text><line x1="331" y1="1193.7" x2="355" y2="1193.7" stroke="#0000ff" stroke-width="1.8"/><rect x="338.8" y="1189.2" width="9" height="9" fill="#0000ff"/><text x="368.2" y="1202.4" font-size="24.7">Anti-mCD27 mIgG1</text><line x1="331" y1="1234.6" x2="355" y2="1234.6" stroke="#0000ff" stroke-width="1.8" stroke-dasharray="2.5 3"/><rect x="339.3" y="1230.6" width="8" height="8" fill="none" stroke="#0000ff" stroke-width="2"/><text x="368.2" y="1243.3" font-size="24.7">Tetra anti-mCD27 mIgG1</text><line x1="331" y1="1275.5" x2="355" y2="1275.5" stroke="#ff0000" stroke-width="1.8"/><circle cx="343.3" cy="1275.5" r="4.8" fill="#ff0000"/><text x="368.2" y="1284.2" font-size="24.7">Anti-mCD27 mIgG1 NQ</text><line x1="331" y1="1316.4" x2="355" y2="1316.4" stroke="#ff0000" stroke-width="1.8" stroke-dasharray="2.5 3"/><circle cx="343.3" cy="1316.4" r="4.2" fill="none" stroke="#ff0000" stroke-width="1.5"/><text x="368.2" y="1325.1" font-size="24.7">Tetra anti-mCD27 mIgG1 NQ</text></svg></body></html>
